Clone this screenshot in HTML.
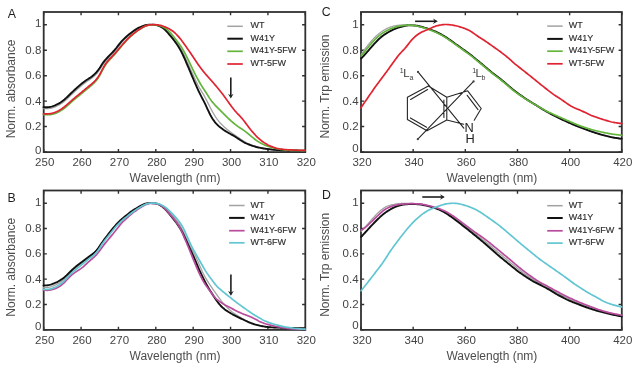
<!DOCTYPE html>
<html><head><meta charset="utf-8"><style>
html,body{margin:0;padding:0;background:#fff;}
body{width:635px;height:370px;overflow:hidden;}
svg{display:block;filter:blur(0.35px);}
text{font-family:"Liberation Sans", sans-serif;fill:#4d4d4d;}
</style></head><body>
<svg width="635" height="370" viewBox="0 0 635 370">
<rect width="635" height="370" fill="#fff"/>
<rect x="43.70" y="12.00" width="261.60" height="140.10" fill="none" stroke="#303030" stroke-width="1.8"/>
<path d="M43.70 152.00h3.20M305.30 152.00h-3.20" stroke="#303030" stroke-width="1.4"/>
<text x="41.30" y="154.30" text-anchor="end" font-size="11.5" style="fill:#444">0</text>
<path d="M43.70 126.56h3.20M305.30 126.56h-3.20" stroke="#303030" stroke-width="1.4"/>
<text x="41.30" y="130.16" text-anchor="end" font-size="11.5" style="fill:#444">0.2</text>
<path d="M43.70 101.12h3.20M305.30 101.12h-3.20" stroke="#303030" stroke-width="1.4"/>
<text x="41.30" y="104.72" text-anchor="end" font-size="11.5" style="fill:#444">0.4</text>
<path d="M43.70 75.68h3.20M305.30 75.68h-3.20" stroke="#303030" stroke-width="1.4"/>
<text x="41.30" y="79.28" text-anchor="end" font-size="11.5" style="fill:#444">0.6</text>
<path d="M43.70 50.24h3.20M305.30 50.24h-3.20" stroke="#303030" stroke-width="1.4"/>
<text x="41.30" y="53.84" text-anchor="end" font-size="11.5" style="fill:#444">0.8</text>
<path d="M43.70 24.80h3.20M305.30 24.80h-3.20" stroke="#303030" stroke-width="1.4"/>
<text x="41.30" y="26.80" text-anchor="end" font-size="11.5" style="fill:#444">1</text>
<path d="M43.70 152.10v-3.20M43.70 12.00v3.20" stroke="#303030" stroke-width="1.4"/>
<text x="44.70" y="166.10" text-anchor="middle" font-size="11.5" style="fill:#444">250</text>
<path d="M81.07 152.10v-3.20M81.07 12.00v3.20" stroke="#303030" stroke-width="1.4"/>
<text x="82.07" y="166.10" text-anchor="middle" font-size="11.5" style="fill:#444">260</text>
<path d="M118.44 152.10v-3.20M118.44 12.00v3.20" stroke="#303030" stroke-width="1.4"/>
<text x="119.44" y="166.10" text-anchor="middle" font-size="11.5" style="fill:#444">270</text>
<path d="M155.81 152.10v-3.20M155.81 12.00v3.20" stroke="#303030" stroke-width="1.4"/>
<text x="156.81" y="166.10" text-anchor="middle" font-size="11.5" style="fill:#444">280</text>
<path d="M193.19 152.10v-3.20M193.19 12.00v3.20" stroke="#303030" stroke-width="1.4"/>
<text x="194.19" y="166.10" text-anchor="middle" font-size="11.5" style="fill:#444">290</text>
<path d="M230.56 152.10v-3.20M230.56 12.00v3.20" stroke="#303030" stroke-width="1.4"/>
<text x="231.56" y="166.10" text-anchor="middle" font-size="11.5" style="fill:#444">300</text>
<path d="M267.93 152.10v-3.20M267.93 12.00v3.20" stroke="#303030" stroke-width="1.4"/>
<text x="268.93" y="166.10" text-anchor="middle" font-size="11.5" style="fill:#444">310</text>
<path d="M305.30 152.10v-3.20M305.30 12.00v3.20" stroke="#303030" stroke-width="1.4"/>
<text x="306.30" y="166.10" text-anchor="middle" font-size="11.5" style="fill:#444">320</text>
<text x="175.00" y="181.70" text-anchor="middle" font-size="12">Wavelength (nm)</text>
<text transform="translate(15.00 89.00) rotate(-90)" text-anchor="middle" font-size="12">Norm. absorbance</text>
<text x="7.80" y="17.80" font-size="12.3" style="fill:#1e1e1e">A</text>
<path d="M43.50 108.60 L44.50 108.60 L45.50 108.60 L46.50 108.59 L47.50 108.58 L48.50 108.54 L49.50 108.46 L50.50 108.31 L51.50 108.09 L52.50 107.80 L53.50 107.45 L54.50 107.06 L55.50 106.64 L56.50 106.20 L57.50 105.73 L58.50 105.23 L59.50 104.68 L60.50 104.07 L61.50 103.40 L62.50 102.69 L63.50 101.92 L64.50 101.12 L65.50 100.28 L66.50 99.39 L67.50 98.48 L68.50 97.54 L69.50 96.57 L70.50 95.60 L71.50 94.64 L72.50 93.68 L73.50 92.73 L74.50 91.81 L75.50 90.89 L76.50 89.98 L77.50 89.07 L78.50 88.17 L79.50 87.28 L80.50 86.40 L81.50 85.53 L82.50 84.68 L83.50 83.87 L84.50 83.11 L85.50 82.40 L86.50 81.73 L87.50 81.08 L88.50 80.42 L89.50 79.75 L90.50 79.04 L91.50 78.30 L92.50 77.53 L93.50 76.71 L94.50 75.85 L95.50 74.92 L96.50 73.88 L97.50 72.72 L98.50 71.42 L99.50 69.98 L100.50 68.43 L101.50 66.84 L102.50 65.30 L103.50 63.85 L104.50 62.53 L105.50 61.32 L106.50 60.17 L107.50 59.08 L108.50 58.01 L109.50 56.95 L110.50 55.90 L111.50 54.84 L112.50 53.78 L113.50 52.69 L114.50 51.56 L115.50 50.37 L116.50 49.12 L117.50 47.81 L118.50 46.47 L119.50 45.15 L120.50 43.88 L121.50 42.69 L122.50 41.58 L123.50 40.54 L124.50 39.54 L125.50 38.57 L126.50 37.62 L127.50 36.69 L128.50 35.78 L129.50 34.92 L130.50 34.11 L131.50 33.32 L132.50 32.57 L133.50 31.82 L134.50 31.10 L135.50 30.39 L136.50 29.72 L137.50 29.11 L138.50 28.55 L139.50 28.03 L140.50 27.55 L141.50 27.09 L142.50 26.65 L143.50 26.23 L144.50 25.85 L145.50 25.54 L146.50 25.29 L147.50 25.09 L148.50 24.95 L149.50 24.84 L150.50 24.76 L151.50 24.72 L152.50 24.72 L153.50 24.76 L154.50 24.83 L155.50 24.94 L156.50 25.10 L157.50 25.31 L158.50 25.58 L159.50 25.93 L160.50 26.36 L161.50 26.87 L162.50 27.46 L163.50 28.13 L164.50 28.89 L165.50 29.75 L166.50 30.70 L167.50 31.72 L168.50 32.78 L169.50 33.87 L170.50 34.98 L171.50 36.10 L172.50 37.25 L173.50 38.43 L174.50 39.66 L175.50 40.94 L176.50 42.28 L177.50 43.66 L178.50 45.10 L179.50 46.63 L180.50 48.27 L181.50 50.04 L182.50 51.92 L183.50 53.90 L184.50 55.95 L185.50 58.06 L186.50 60.22 L187.50 62.42 L188.50 64.64 L189.50 66.89 L190.50 69.14 L191.50 71.39 L192.50 73.63 L193.50 75.85 L194.50 78.04 L195.50 80.19 L196.50 82.29 L197.50 84.30 L198.50 86.22 L199.50 88.02 L200.50 89.70 L201.50 91.32 L202.50 92.92 L203.50 94.59 L204.50 96.35 L205.50 98.21 L206.50 100.14 L207.50 102.11 L208.50 104.09 L209.50 106.07 L210.50 108.02 L211.50 109.92 L212.50 111.76 L213.50 113.51 L214.50 115.19 L215.50 116.77 L216.50 118.26 L217.50 119.64 L218.50 120.90 L219.50 122.08 L220.50 123.20 L221.50 124.27 L222.50 125.29 L223.50 126.26 L224.50 127.17 L225.50 128.04 L226.50 128.88 L227.50 129.70 L228.50 130.51 L229.50 131.30 L230.50 132.06 L231.50 132.78 L232.50 133.49 L233.50 134.18 L234.50 134.86 L235.50 135.54 L236.50 136.22 L237.50 136.91 L238.50 137.60 L239.50 138.29 L240.50 138.98 L241.50 139.67 L242.50 140.34 L243.50 140.98 L244.50 141.59 L245.50 142.16 L246.50 142.69 L247.50 143.21 L248.50 143.70 L249.50 144.17 L250.50 144.62 L251.50 145.03 L252.50 145.42 L253.50 145.79 L254.50 146.14 L255.50 146.47 L256.50 146.78 L257.50 147.06 L258.50 147.31 L259.50 147.55 L260.50 147.77 L261.50 147.98 L262.50 148.17 L263.50 148.35 L264.50 148.51 L265.50 148.67 L266.50 148.82 L267.50 148.96 L268.50 149.10 L269.50 149.24 L270.50 149.37 L271.50 149.50 L272.50 149.62 L273.50 149.74 L274.50 149.83 L275.50 149.91 L276.50 149.98 L277.50 150.04 L278.50 150.09 L279.50 150.14 L280.50 150.19 L281.50 150.23 L282.50 150.28 L283.50 150.32 L284.50 150.36 L285.50 150.39 L286.50 150.41 L287.50 150.43 L288.50 150.45 L289.50 150.47 L290.50 150.48 L291.50 150.50 L292.50 150.51 L293.50 150.53 L294.50 150.54 L295.50 150.56 L296.50 150.57 L297.50 150.59 L298.50 150.60 L299.50 150.62 L300.50 150.63 L301.50 150.65 L302.50 150.66 L303.50 150.68 L304.50 150.69 L305.00 150.70" fill="none" stroke="#a2a2a2" stroke-width="1.30" stroke-linejoin="round" stroke-linecap="round"/>
<path d="M43.50 107.20 L44.50 107.20 L45.50 107.20 L46.50 107.19 L47.50 107.18 L48.50 107.14 L49.50 107.05 L50.50 106.90 L51.50 106.66 L52.50 106.35 L53.50 105.98 L54.50 105.58 L55.50 105.14 L56.50 104.67 L57.50 104.18 L58.50 103.66 L59.50 103.09 L60.50 102.46 L61.50 101.77 L62.50 101.03 L63.50 100.25 L64.50 99.42 L65.50 98.55 L66.50 97.65 L67.50 96.70 L68.50 95.74 L69.50 94.75 L70.50 93.76 L71.50 92.78 L72.50 91.81 L73.50 90.87 L74.50 89.95 L75.50 89.05 L76.50 88.15 L77.50 87.26 L78.50 86.38 L79.50 85.51 L80.50 84.64 L81.50 83.78 L82.50 82.95 L83.50 82.16 L84.50 81.42 L85.50 80.72 L86.50 80.07 L87.50 79.43 L88.50 78.79 L89.50 78.12 L90.50 77.42 L91.50 76.67 L92.50 75.88 L93.50 75.06 L94.50 74.18 L95.50 73.22 L96.50 72.17 L97.50 70.98 L98.50 69.66 L99.50 68.21 L100.50 66.66 L101.50 65.07 L102.50 63.55 L103.50 62.14 L104.50 60.85 L105.50 59.67 L106.50 58.57 L107.50 57.50 L108.50 56.46 L109.50 55.42 L110.50 54.39 L111.50 53.36 L112.50 52.31 L113.50 51.24 L114.50 50.13 L115.50 48.96 L116.50 47.73 L117.50 46.44 L118.50 45.13 L119.50 43.83 L120.50 42.58 L121.50 41.41 L122.50 40.34 L123.50 39.33 L124.50 38.37 L125.50 37.44 L126.50 36.52 L127.50 35.62 L128.50 34.76 L129.50 33.94 L130.50 33.15 L131.50 32.41 L132.50 31.69 L133.50 30.98 L134.50 30.29 L135.50 29.63 L136.50 29.00 L137.50 28.43 L138.50 27.91 L139.50 27.44 L140.50 27.01 L141.50 26.60 L142.50 26.20 L143.50 25.83 L144.50 25.50 L145.50 25.23 L146.50 25.02 L147.50 24.87 L148.50 24.76 L149.50 24.68 L150.50 24.64 L151.50 24.63 L152.50 24.65 L153.50 24.71 L154.50 24.82 L155.50 24.96 L156.50 25.16 L157.50 25.41 L158.50 25.72 L159.50 26.11 L160.50 26.59 L161.50 27.14 L162.50 27.78 L163.50 28.51 L164.50 29.34 L165.50 30.28 L166.50 31.32 L167.50 32.43 L168.50 33.59 L169.50 34.77 L170.50 35.96 L171.50 37.17 L172.50 38.40 L173.50 39.66 L174.50 40.98 L175.50 42.34 L176.50 43.76 L177.50 45.23 L178.50 46.76 L179.50 48.40 L180.50 50.16 L181.50 52.06 L182.50 54.10 L183.50 56.24 L184.50 58.45 L185.50 60.72 L186.50 63.02 L187.50 65.35 L188.50 67.70 L189.50 70.05 L190.50 72.41 L191.50 74.77 L192.50 77.14 L193.50 79.50 L194.50 81.85 L195.50 84.18 L196.50 86.47 L197.50 88.71 L198.50 90.87 L199.50 92.94 L200.50 94.93 L201.50 96.84 L202.50 98.73 L203.50 100.64 L204.50 102.62 L205.50 104.70 L206.50 106.85 L207.50 109.03 L208.50 111.19 L209.50 113.27 L210.50 115.22 L211.50 117.04 L212.50 118.69 L213.50 120.18 L214.50 121.54 L215.50 122.78 L216.50 123.91 L217.50 124.95 L218.50 125.89 L219.50 126.76 L220.50 127.58 L221.50 128.36 L222.50 129.10 L223.50 129.80 L224.50 130.46 L225.50 131.09 L226.50 131.69 L227.50 132.29 L228.50 132.87 L229.50 133.45 L230.50 134.01 L231.50 134.57 L232.50 135.12 L233.50 135.68 L234.50 136.27 L235.50 136.89 L236.50 137.53 L237.50 138.20 L238.50 138.87 L239.50 139.53 L240.50 140.18 L241.50 140.82 L242.50 141.43 L243.50 142.00 L244.50 142.54 L245.50 143.04 L246.50 143.50 L247.50 143.93 L248.50 144.35 L249.50 144.75 L250.50 145.12 L251.50 145.48 L252.50 145.81 L253.50 146.13 L254.50 146.44 L255.50 146.73 L256.50 147.00 L257.50 147.24 L258.50 147.48 L259.50 147.69 L260.50 147.90 L261.50 148.10 L262.50 148.28 L263.50 148.45 L264.50 148.61 L265.50 148.77 L266.50 148.91 L267.50 149.05 L268.50 149.19 L269.50 149.31 L270.50 149.43 L271.50 149.55 L272.50 149.66 L273.50 149.76 L274.50 149.85 L275.50 149.92 L276.50 149.98 L277.50 150.04 L278.50 150.09 L279.50 150.14 L280.50 150.19 L281.50 150.23 L282.50 150.28 L283.50 150.32 L284.50 150.36 L285.50 150.39 L286.50 150.41 L287.50 150.43 L288.50 150.45 L289.50 150.47 L290.50 150.48 L291.50 150.50 L292.50 150.51 L293.50 150.53 L294.50 150.54 L295.50 150.56 L296.50 150.57 L297.50 150.59 L298.50 150.60 L299.50 150.62 L300.50 150.63 L301.50 150.65 L302.50 150.66 L303.50 150.68 L304.50 150.69 L305.00 150.70" fill="none" stroke="#111111" stroke-width="1.90" stroke-linejoin="round" stroke-linecap="round"/>
<path d="M43.50 114.60 L44.50 114.63 L45.50 114.66 L46.50 114.68 L47.50 114.70 L48.50 114.70 L49.50 114.67 L50.50 114.58 L51.50 114.44 L52.50 114.25 L53.50 114.00 L54.50 113.70 L55.50 113.35 L56.50 112.96 L57.50 112.52 L58.50 112.03 L59.50 111.49 L60.50 110.89 L61.50 110.24 L62.50 109.55 L63.50 108.81 L64.50 108.04 L65.50 107.23 L66.50 106.39 L67.50 105.53 L68.50 104.66 L69.50 103.77 L70.50 102.87 L71.50 101.97 L72.50 101.08 L73.50 100.20 L74.50 99.35 L75.50 98.51 L76.50 97.70 L77.50 96.90 L78.50 96.09 L79.50 95.28 L80.50 94.46 L81.50 93.63 L82.50 92.80 L83.50 91.96 L84.50 91.12 L85.50 90.28 L86.50 89.44 L87.50 88.62 L88.50 87.80 L89.50 86.98 L90.50 86.16 L91.50 85.31 L92.50 84.43 L93.50 83.50 L94.50 82.52 L95.50 81.47 L96.50 80.31 L97.50 79.01 L98.50 77.54 L99.50 75.89 L100.50 74.08 L101.50 72.16 L102.50 70.20 L103.50 68.31 L104.50 66.56 L105.50 64.98 L106.50 63.56 L107.50 62.28 L108.50 61.10 L109.50 59.99 L110.50 58.92 L111.50 57.86 L112.50 56.78 L113.50 55.68 L114.50 54.56 L115.50 53.42 L116.50 52.26 L117.50 51.07 L118.50 49.85 L119.50 48.62 L120.50 47.39 L121.50 46.18 L122.50 45.00 L123.50 43.86 L124.50 42.73 L125.50 41.62 L126.50 40.52 L127.50 39.45 L128.50 38.42 L129.50 37.44 L130.50 36.51 L131.50 35.63 L132.50 34.78 L133.50 33.95 L134.50 33.13 L135.50 32.33 L136.50 31.56 L137.50 30.82 L138.50 30.13 L139.50 29.47 L140.50 28.84 L141.50 28.22 L142.50 27.62 L143.50 27.05 L144.50 26.53 L145.50 26.08 L146.50 25.71 L147.50 25.43 L148.50 25.20 L149.50 25.04 L150.50 24.93 L151.50 24.86 L152.50 24.83 L153.50 24.83 L154.50 24.86 L155.50 24.92 L156.50 25.03 L157.50 25.19 L158.50 25.39 L159.50 25.62 L160.50 25.90 L161.50 26.24 L162.50 26.66 L163.50 27.15 L164.50 27.72 L165.50 28.36 L166.50 29.06 L167.50 29.85 L168.50 30.76 L169.50 31.78 L170.50 32.90 L171.50 34.09 L172.50 35.31 L173.50 36.55 L174.50 37.81 L175.50 39.08 L176.50 40.36 L177.50 41.67 L178.50 43.00 L179.50 44.37 L180.50 45.81 L181.50 47.32 L182.50 48.92 L183.50 50.61 L184.50 52.42 L185.50 54.34 L186.50 56.34 L187.50 58.40 L188.50 60.48 L189.50 62.57 L190.50 64.65 L191.50 66.72 L192.50 68.78 L193.50 70.83 L194.50 72.86 L195.50 74.86 L196.50 76.80 L197.50 78.69 L198.50 80.51 L199.50 82.27 L200.50 83.97 L201.50 85.60 L202.50 87.18 L203.50 88.70 L204.50 90.19 L205.50 91.71 L206.50 93.28 L207.50 94.90 L208.50 96.53 L209.50 98.11 L210.50 99.57 L211.50 100.91 L212.50 102.15 L213.50 103.32 L214.50 104.46 L215.50 105.56 L216.50 106.63 L217.50 107.67 L218.50 108.69 L219.50 109.70 L220.50 110.70 L221.50 111.70 L222.50 112.70 L223.50 113.70 L224.50 114.70 L225.50 115.69 L226.50 116.67 L227.50 117.63 L228.50 118.58 L229.50 119.50 L230.50 120.40 L231.50 121.28 L232.50 122.15 L233.50 122.99 L234.50 123.81 L235.50 124.60 L236.50 125.37 L237.50 126.11 L238.50 126.83 L239.50 127.52 L240.50 128.18 L241.50 128.82 L242.50 129.45 L243.50 130.11 L244.50 130.82 L245.50 131.58 L246.50 132.38 L247.50 133.21 L248.50 134.05 L249.50 134.89 L250.50 135.72 L251.50 136.55 L252.50 137.37 L253.50 138.18 L254.50 138.96 L255.50 139.72 L256.50 140.44 L257.50 141.12 L258.50 141.76 L259.50 142.38 L260.50 142.96 L261.50 143.52 L262.50 144.03 L263.50 144.50 L264.50 144.93 L265.50 145.34 L266.50 145.73 L267.50 146.10 L268.50 146.46 L269.50 146.79 L270.50 147.10 L271.50 147.40 L272.50 147.69 L273.50 147.95 L274.50 148.20 L275.50 148.41 L276.50 148.61 L277.50 148.79 L278.50 148.96 L279.50 149.13 L280.50 149.29 L281.50 149.46 L282.50 149.62 L283.50 149.77 L284.50 149.91 L285.50 150.04 L286.50 150.13 L287.50 150.19 L288.50 150.24 L289.50 150.27 L290.50 150.29 L291.50 150.32 L292.50 150.34 L293.50 150.36 L294.50 150.38 L295.50 150.40 L296.50 150.42 L297.50 150.44 L298.50 150.46 L299.50 150.48 L300.50 150.51 L301.50 150.53 L302.50 150.55 L303.50 150.57 L304.50 150.59 L305.00 150.60" fill="none" stroke="#63b53c" stroke-width="1.70" stroke-linejoin="round" stroke-linecap="round"/>
<path d="M43.50 113.80 L44.50 113.80 L45.50 113.80 L46.50 113.80 L47.50 113.78 L48.50 113.75 L49.50 113.69 L50.50 113.58 L51.50 113.40 L52.50 113.17 L53.50 112.88 L54.50 112.54 L55.50 112.16 L56.50 111.74 L57.50 111.27 L58.50 110.76 L59.50 110.21 L60.50 109.60 L61.50 108.95 L62.50 108.25 L63.50 107.51 L64.50 106.74 L65.50 105.93 L66.50 105.09 L67.50 104.23 L68.50 103.36 L69.50 102.47 L70.50 101.57 L71.50 100.67 L72.50 99.78 L73.50 98.90 L74.50 98.05 L75.50 97.21 L76.50 96.40 L77.50 95.60 L78.50 94.79 L79.50 93.98 L80.50 93.16 L81.50 92.33 L82.50 91.50 L83.50 90.66 L84.50 89.82 L85.50 88.98 L86.50 88.15 L87.50 87.34 L88.50 86.53 L89.50 85.73 L90.50 84.92 L91.50 84.09 L92.50 83.22 L93.50 82.30 L94.50 81.32 L95.50 80.27 L96.50 79.12 L97.50 77.83 L98.50 76.38 L99.50 74.75 L100.50 72.97 L101.50 71.08 L102.50 69.16 L103.50 67.30 L104.50 65.58 L105.50 64.03 L106.50 62.64 L107.50 61.38 L108.50 60.23 L109.50 59.14 L110.50 58.09 L111.50 57.05 L112.50 56.00 L113.50 54.93 L114.50 53.84 L115.50 52.73 L116.50 51.60 L117.50 50.45 L118.50 49.27 L119.50 48.06 L120.50 46.86 L121.50 45.68 L122.50 44.54 L123.50 43.42 L124.50 42.32 L125.50 41.23 L126.50 40.16 L127.50 39.11 L128.50 38.10 L129.50 37.13 L130.50 36.23 L131.50 35.36 L132.50 34.52 L133.50 33.70 L134.50 32.90 L135.50 32.11 L136.50 31.35 L137.50 30.63 L138.50 29.95 L139.50 29.30 L140.50 28.68 L141.50 28.07 L142.50 27.48 L143.50 26.92 L144.50 26.41 L145.50 25.97 L146.50 25.61 L147.50 25.32 L148.50 25.10 L149.50 24.93 L150.50 24.81 L151.50 24.73 L152.50 24.68 L153.50 24.67 L154.50 24.68 L155.50 24.72 L156.50 24.79 L157.50 24.91 L158.50 25.06 L159.50 25.24 L160.50 25.45 L161.50 25.69 L162.50 25.98 L163.50 26.32 L164.50 26.69 L165.50 27.10 L166.50 27.54 L167.50 28.01 L168.50 28.52 L169.50 29.08 L170.50 29.67 L171.50 30.30 L172.50 30.98 L173.50 31.72 L174.50 32.55 L175.50 33.48 L176.50 34.49 L177.50 35.56 L178.50 36.67 L179.50 37.84 L180.50 39.06 L181.50 40.34 L182.50 41.67 L183.50 43.04 L184.50 44.43 L185.50 45.83 L186.50 47.25 L187.50 48.68 L188.50 50.13 L189.50 51.58 L190.50 53.05 L191.50 54.52 L192.50 56.00 L193.50 57.49 L194.50 58.99 L195.50 60.49 L196.50 61.98 L197.50 63.46 L198.50 64.91 L199.50 66.32 L200.50 67.70 L201.50 69.05 L202.50 70.35 L203.50 71.60 L204.50 72.80 L205.50 73.97 L206.50 75.11 L207.50 76.24 L208.50 77.36 L209.50 78.49 L210.50 79.62 L211.50 80.75 L212.50 81.89 L213.50 83.03 L214.50 84.19 L215.50 85.36 L216.50 86.53 L217.50 87.73 L218.50 88.94 L219.50 90.18 L220.50 91.44 L221.50 92.72 L222.50 94.03 L223.50 95.36 L224.50 96.71 L225.50 98.08 L226.50 99.46 L227.50 100.87 L228.50 102.27 L229.50 103.67 L230.50 105.05 L231.50 106.41 L232.50 107.74 L233.50 109.03 L234.50 110.27 L235.50 111.43 L236.50 112.53 L237.50 113.58 L238.50 114.61 L239.50 115.65 L240.50 116.74 L241.50 117.87 L242.50 119.06 L243.50 120.29 L244.50 121.56 L245.50 122.88 L246.50 124.22 L247.50 125.57 L248.50 126.91 L249.50 128.22 L250.50 129.50 L251.50 130.72 L252.50 131.91 L253.50 133.06 L254.50 134.18 L255.50 135.26 L256.50 136.29 L257.50 137.27 L258.50 138.20 L259.50 139.09 L260.50 139.95 L261.50 140.76 L262.50 141.52 L263.50 142.23 L264.50 142.89 L265.50 143.51 L266.50 144.10 L267.50 144.66 L268.50 145.18 L269.50 145.65 L270.50 146.09 L271.50 146.50 L272.50 146.89 L273.50 147.26 L274.50 147.61 L275.50 147.93 L276.50 148.21 L277.50 148.46 L278.50 148.67 L279.50 148.85 L280.50 149.00 L281.50 149.13 L282.50 149.26 L283.50 149.38 L284.50 149.49 L285.50 149.59 L286.50 149.68 L287.50 149.75 L288.50 149.82 L289.50 149.87 L290.50 149.92 L291.50 149.97 L292.50 150.02 L293.50 150.07 L294.50 150.11 L295.50 150.15 L296.50 150.19 L297.50 150.22 L298.50 150.25 L299.50 150.27 L300.50 150.30 L301.50 150.32 L302.50 150.34 L303.50 150.37 L304.50 150.39 L305.00 150.40" fill="none" stroke="#e02331" stroke-width="1.70" stroke-linejoin="round" stroke-linecap="round"/>
<path d="M227.30 26.30h15.5" stroke="#a2a2a2" stroke-width="1.50"/>
<text x="250.50" y="28.30" font-size="9" style="fill:#2e2e2e;stroke:#2e2e2e;stroke-width:0.15px">WT</text>
<path d="M227.30 38.70h15.5" stroke="#111111" stroke-width="2.00"/>
<text x="250.50" y="40.70" font-size="9" style="fill:#2e2e2e;stroke:#2e2e2e;stroke-width:0.15px">W41Y</text>
<path d="M227.30 51.30h15.5" stroke="#63b53c" stroke-width="1.70"/>
<text x="250.50" y="53.30" font-size="9" style="fill:#2e2e2e;stroke:#2e2e2e;stroke-width:0.15px">W41Y-5FW</text>
<path d="M227.30 64.00h15.5" stroke="#e02331" stroke-width="1.70"/>
<text x="250.50" y="66.00" font-size="9" style="fill:#2e2e2e;stroke:#2e2e2e;stroke-width:0.15px">WT-5FW</text>
<path d="M230.80 77.40V97.10" stroke="#1e1e1e" stroke-width="1.6"/>
<path d="M228.00 93.80L230.80 98.60L233.60 93.80L230.80 95.40Z" fill="#222"/>
<rect x="43.70" y="190.50" width="261.60" height="139.40" fill="none" stroke="#303030" stroke-width="1.8"/>
<path d="M43.70 329.80h3.20M305.30 329.80h-3.20" stroke="#303030" stroke-width="1.4"/>
<text x="41.30" y="330.40" text-anchor="end" font-size="11.5" style="fill:#444">0</text>
<path d="M43.70 304.48h3.20M305.30 304.48h-3.20" stroke="#303030" stroke-width="1.4"/>
<text x="41.30" y="308.08" text-anchor="end" font-size="11.5" style="fill:#444">0.2</text>
<path d="M43.70 279.16h3.20M305.30 279.16h-3.20" stroke="#303030" stroke-width="1.4"/>
<text x="41.30" y="282.76" text-anchor="end" font-size="11.5" style="fill:#444">0.4</text>
<path d="M43.70 253.84h3.20M305.30 253.84h-3.20" stroke="#303030" stroke-width="1.4"/>
<text x="41.30" y="257.44" text-anchor="end" font-size="11.5" style="fill:#444">0.6</text>
<path d="M43.70 228.52h3.20M305.30 228.52h-3.20" stroke="#303030" stroke-width="1.4"/>
<text x="41.30" y="232.12" text-anchor="end" font-size="11.5" style="fill:#444">0.8</text>
<path d="M43.70 203.20h3.20M305.30 203.20h-3.20" stroke="#303030" stroke-width="1.4"/>
<text x="41.30" y="205.80" text-anchor="end" font-size="11.5" style="fill:#444">1</text>
<path d="M43.70 329.90v-3.20M43.70 190.50v3.20" stroke="#303030" stroke-width="1.4"/>
<text x="44.70" y="343.90" text-anchor="middle" font-size="11.5" style="fill:#444">250</text>
<path d="M81.07 329.90v-3.20M81.07 190.50v3.20" stroke="#303030" stroke-width="1.4"/>
<text x="82.07" y="343.90" text-anchor="middle" font-size="11.5" style="fill:#444">260</text>
<path d="M118.44 329.90v-3.20M118.44 190.50v3.20" stroke="#303030" stroke-width="1.4"/>
<text x="119.44" y="343.90" text-anchor="middle" font-size="11.5" style="fill:#444">270</text>
<path d="M155.81 329.90v-3.20M155.81 190.50v3.20" stroke="#303030" stroke-width="1.4"/>
<text x="156.81" y="343.90" text-anchor="middle" font-size="11.5" style="fill:#444">280</text>
<path d="M193.19 329.90v-3.20M193.19 190.50v3.20" stroke="#303030" stroke-width="1.4"/>
<text x="194.19" y="343.90" text-anchor="middle" font-size="11.5" style="fill:#444">290</text>
<path d="M230.56 329.90v-3.20M230.56 190.50v3.20" stroke="#303030" stroke-width="1.4"/>
<text x="231.56" y="343.90" text-anchor="middle" font-size="11.5" style="fill:#444">300</text>
<path d="M267.93 329.90v-3.20M267.93 190.50v3.20" stroke="#303030" stroke-width="1.4"/>
<text x="268.93" y="343.90" text-anchor="middle" font-size="11.5" style="fill:#444">310</text>
<path d="M305.30 329.90v-3.20M305.30 190.50v3.20" stroke="#303030" stroke-width="1.4"/>
<text x="306.30" y="343.90" text-anchor="middle" font-size="11.5" style="fill:#444">320</text>
<text x="175.00" y="359.50" text-anchor="middle" font-size="12">Wavelength (nm)</text>
<text transform="translate(15.00 267.30) rotate(-90)" text-anchor="middle" font-size="12">Norm. absorbance</text>
<text x="7.50" y="201.60" font-size="12.3" style="fill:#1e1e1e">B</text>
<path d="M43.50 287.30 L44.50 287.35 L45.50 287.40 L46.50 287.41 L47.50 287.39 L48.50 287.29 L49.50 287.11 L50.50 286.84 L51.50 286.52 L52.50 286.16 L53.50 285.77 L54.50 285.36 L55.50 284.93 L56.50 284.45 L57.50 283.93 L58.50 283.35 L59.50 282.72 L60.50 282.04 L61.50 281.30 L62.50 280.51 L63.50 279.67 L64.50 278.77 L65.50 277.84 L66.50 276.86 L67.50 275.86 L68.50 274.82 L69.50 273.78 L70.50 272.75 L71.50 271.75 L72.50 270.79 L73.50 269.87 L74.50 268.98 L75.50 268.13 L76.50 267.31 L77.50 266.53 L78.50 265.78 L79.50 265.04 L80.50 264.30 L81.50 263.56 L82.50 262.81 L83.50 262.04 L84.50 261.25 L85.50 260.44 L86.50 259.63 L87.50 258.82 L88.50 258.03 L89.50 257.27 L90.50 256.52 L91.50 255.77 L92.50 255.00 L93.50 254.17 L94.50 253.26 L95.50 252.25 L96.50 251.13 L97.50 249.91 L98.50 248.57 L99.50 247.13 L100.50 245.62 L101.50 244.11 L102.50 242.62 L103.50 241.19 L104.50 239.81 L105.50 238.48 L106.50 237.18 L107.50 235.91 L108.50 234.65 L109.50 233.41 L110.50 232.17 L111.50 230.94 L112.50 229.71 L113.50 228.50 L114.50 227.31 L115.50 226.16 L116.50 225.06 L117.50 224.00 L118.50 222.98 L119.50 222.00 L120.50 221.05 L121.50 220.15 L122.50 219.30 L123.50 218.47 L124.50 217.66 L125.50 216.86 L126.50 216.06 L127.50 215.27 L128.50 214.48 L129.50 213.69 L130.50 212.92 L131.50 212.18 L132.50 211.46 L133.50 210.76 L134.50 210.08 L135.50 209.42 L136.50 208.77 L137.50 208.13 L138.50 207.50 L139.50 206.89 L140.50 206.30 L141.50 205.74 L142.50 205.21 L143.50 204.74 L144.50 204.31 L145.50 203.94 L146.50 203.64 L147.50 203.41 L148.50 203.26 L149.50 203.16 L150.50 203.12 L151.50 203.12 L152.50 203.14 L153.50 203.20 L154.50 203.28 L155.50 203.40 L156.50 203.56 L157.50 203.79 L158.50 204.10 L159.50 204.49 L160.50 204.98 L161.50 205.53 L162.50 206.14 L163.50 206.81 L164.50 207.54 L165.50 208.33 L166.50 209.18 L167.50 210.08 L168.50 211.03 L169.50 212.01 L170.50 213.03 L171.50 214.09 L172.50 215.20 L173.50 216.36 L174.50 217.57 L175.50 218.83 L176.50 220.14 L177.50 221.51 L178.50 222.96 L179.50 224.51 L180.50 226.19 L181.50 228.02 L182.50 229.99 L183.50 232.09 L184.50 234.27 L185.50 236.49 L186.50 238.72 L187.50 240.91 L188.50 243.02 L189.50 245.04 L190.50 246.96 L191.50 248.77 L192.50 250.52 L193.50 252.25 L194.50 254.06 L195.50 256.02 L196.50 258.16 L197.50 260.46 L198.50 262.83 L199.50 265.21 L200.50 267.55 L201.50 269.80 L202.50 271.95 L203.50 273.98 L204.50 275.89 L205.50 277.71 L206.50 279.44 L207.50 281.10 L208.50 282.69 L209.50 284.23 L210.50 285.72 L211.50 287.20 L212.50 288.65 L213.50 290.08 L214.50 291.50 L215.50 292.91 L216.50 294.31 L217.50 295.70 L218.50 297.08 L219.50 298.44 L220.50 299.78 L221.50 301.09 L222.50 302.36 L223.50 303.57 L224.50 304.73 L225.50 305.83 L226.50 306.87 L227.50 307.88 L228.50 308.83 L229.50 309.75 L230.50 310.62 L231.50 311.44 L232.50 312.21 L233.50 312.94 L234.50 313.64 L235.50 314.31 L236.50 314.97 L237.50 315.60 L238.50 316.22 L239.50 316.82 L240.50 317.41 L241.50 317.99 L242.50 318.56 L243.50 319.12 L244.50 319.67 L245.50 320.21 L246.50 320.74 L247.50 321.24 L248.50 321.72 L249.50 322.16 L250.50 322.58 L251.50 322.99 L252.50 323.38 L253.50 323.76 L254.50 324.10 L255.50 324.42 L256.50 324.70 L257.50 324.95 L258.50 325.19 L259.50 325.43 L260.50 325.65 L261.50 325.88 L262.50 326.09 L263.50 326.30 L264.50 326.48 L265.50 326.65 L266.50 326.80 L267.50 326.94 L268.50 327.07 L269.50 327.18 L270.50 327.26 L271.50 327.33 L272.50 327.39 L273.50 327.44 L274.50 327.48 L275.50 327.52 L276.50 327.56 L277.50 327.60 L278.50 327.64 L279.50 327.67 L280.50 327.71 L281.50 327.74 L282.50 327.77 L283.50 327.80 L284.50 327.83 L285.50 327.86 L286.50 327.89 L287.50 327.92 L288.50 327.95 L289.50 327.98 L290.50 328.00 L291.50 328.02 L292.50 328.03 L293.50 328.05 L294.50 328.06 L295.50 328.07 L296.50 328.09 L297.50 328.10 L298.50 328.11 L299.50 328.13 L300.50 328.14 L301.50 328.15 L302.50 328.17 L303.50 328.18 L304.50 328.19 L305.00 328.20" fill="none" stroke="#a2a2a2" stroke-width="1.30" stroke-linejoin="round" stroke-linecap="round"/>
<path d="M43.50 285.40 L44.50 285.40 L45.50 285.38 L46.50 285.35 L47.50 285.28 L48.50 285.14 L49.50 284.93 L50.50 284.66 L51.50 284.33 L52.50 283.96 L53.50 283.57 L54.50 283.17 L55.50 282.74 L56.50 282.29 L57.50 281.79 L58.50 281.26 L59.50 280.68 L60.50 280.07 L61.50 279.40 L62.50 278.70 L63.50 277.94 L64.50 277.14 L65.50 276.29 L66.50 275.39 L67.50 274.44 L68.50 273.46 L69.50 272.46 L70.50 271.47 L71.50 270.49 L72.50 269.54 L73.50 268.62 L74.50 267.73 L75.50 266.86 L76.50 266.03 L77.50 265.22 L78.50 264.45 L79.50 263.71 L80.50 262.99 L81.50 262.28 L82.50 261.56 L83.50 260.82 L84.50 260.06 L85.50 259.27 L86.50 258.48 L87.50 257.70 L88.50 256.93 L89.50 256.18 L90.50 255.46 L91.50 254.73 L92.50 254.00 L93.50 253.21 L94.50 252.36 L95.50 251.40 L96.50 250.33 L97.50 249.12 L98.50 247.79 L99.50 246.35 L100.50 244.87 L101.50 243.38 L102.50 241.91 L103.50 240.48 L104.50 239.10 L105.50 237.78 L106.50 236.49 L107.50 235.22 L108.50 233.96 L109.50 232.71 L110.50 231.45 L111.50 230.20 L112.50 228.94 L113.50 227.70 L114.50 226.49 L115.50 225.32 L116.50 224.21 L117.50 223.15 L118.50 222.14 L119.50 221.17 L120.50 220.24 L121.50 219.34 L122.50 218.49 L123.50 217.67 L124.50 216.85 L125.50 216.05 L126.50 215.24 L127.50 214.44 L128.50 213.64 L129.50 212.84 L130.50 212.08 L131.50 211.35 L132.50 210.66 L133.50 210.01 L134.50 209.39 L135.50 208.79 L136.50 208.19 L137.50 207.59 L138.50 206.98 L139.50 206.39 L140.50 205.81 L141.50 205.28 L142.50 204.79 L143.50 204.37 L144.50 204.01 L145.50 203.71 L146.50 203.48 L147.50 203.30 L148.50 203.19 L149.50 203.13 L150.50 203.11 L151.50 203.13 L152.50 203.18 L153.50 203.25 L154.50 203.35 L155.50 203.49 L156.50 203.67 L157.50 203.94 L158.50 204.32 L159.50 204.81 L160.50 205.41 L161.50 206.10 L162.50 206.86 L163.50 207.68 L164.50 208.59 L165.50 209.58 L166.50 210.66 L167.50 211.81 L168.50 212.99 L169.50 214.18 L170.50 215.39 L171.50 216.60 L172.50 217.82 L173.50 219.06 L174.50 220.34 L175.50 221.66 L176.50 223.03 L177.50 224.43 L178.50 225.89 L179.50 227.42 L180.50 229.04 L181.50 230.79 L182.50 232.67 L183.50 234.68 L184.50 236.80 L185.50 239.00 L186.50 241.23 L187.50 243.47 L188.50 245.67 L189.50 247.81 L190.50 249.90 L191.50 251.95 L192.50 254.04 L193.50 256.23 L194.50 258.52 L195.50 260.89 L196.50 263.30 L197.50 265.69 L198.50 268.03 L199.50 270.31 L200.50 272.51 L201.50 274.65 L202.50 276.72 L203.50 278.73 L204.50 280.69 L205.50 282.60 L206.50 284.46 L207.50 286.27 L208.50 288.02 L209.50 289.69 L210.50 291.30 L211.50 292.86 L212.50 294.38 L213.50 295.90 L214.50 297.41 L215.50 298.91 L216.50 300.37 L217.50 301.78 L218.50 303.11 L219.50 304.34 L220.50 305.47 L221.50 306.52 L222.50 307.48 L223.50 308.36 L224.50 309.17 L225.50 309.92 L226.50 310.62 L227.50 311.29 L228.50 311.93 L229.50 312.55 L230.50 313.15 L231.50 313.73 L232.50 314.29 L233.50 314.82 L234.50 315.34 L235.50 315.84 L236.50 316.34 L237.50 316.83 L238.50 317.32 L239.50 317.80 L240.50 318.29 L241.50 318.77 L242.50 319.26 L243.50 319.75 L244.50 320.25 L245.50 320.74 L246.50 321.22 L247.50 321.68 L248.50 322.11 L249.50 322.52 L250.50 322.91 L251.50 323.29 L252.50 323.66 L253.50 324.01 L254.50 324.34 L255.50 324.64 L256.50 324.92 L257.50 325.18 L258.50 325.42 L259.50 325.64 L260.50 325.86 L261.50 326.06 L262.50 326.25 L263.50 326.42 L264.50 326.59 L265.50 326.73 L266.50 326.87 L267.50 326.99 L268.50 327.10 L269.50 327.19 L270.50 327.27 L271.50 327.34 L272.50 327.39 L273.50 327.44 L274.50 327.48 L275.50 327.52 L276.50 327.56 L277.50 327.60 L278.50 327.64 L279.50 327.67 L280.50 327.71 L281.50 327.74 L282.50 327.77 L283.50 327.80 L284.50 327.83 L285.50 327.86 L286.50 327.89 L287.50 327.92 L288.50 327.95 L289.50 327.98 L290.50 328.00 L291.50 328.02 L292.50 328.03 L293.50 328.05 L294.50 328.06 L295.50 328.07 L296.50 328.09 L297.50 328.10 L298.50 328.11 L299.50 328.13 L300.50 328.14 L301.50 328.15 L302.50 328.17 L303.50 328.18 L304.50 328.19 L305.00 328.20" fill="none" stroke="#111111" stroke-width="1.90" stroke-linejoin="round" stroke-linecap="round"/>
<path d="M43.50 290.20 L44.50 290.24 L45.50 290.27 L46.50 290.28 L47.50 290.28 L48.50 290.23 L49.50 290.14 L50.50 289.99 L51.50 289.80 L52.50 289.55 L53.50 289.26 L54.50 288.92 L55.50 288.54 L56.50 288.11 L57.50 287.62 L58.50 287.07 L59.50 286.45 L60.50 285.77 L61.50 285.02 L62.50 284.18 L63.50 283.27 L64.50 282.30 L65.50 281.29 L66.50 280.25 L67.50 279.21 L68.50 278.16 L69.50 277.12 L70.50 276.14 L71.50 275.22 L72.50 274.37 L73.50 273.59 L74.50 272.86 L75.50 272.17 L76.50 271.50 L77.50 270.85 L78.50 270.20 L79.50 269.56 L80.50 268.89 L81.50 268.18 L82.50 267.42 L83.50 266.58 L84.50 265.67 L85.50 264.73 L86.50 263.78 L87.50 262.84 L88.50 261.92 L89.50 261.03 L90.50 260.18 L91.50 259.34 L92.50 258.49 L93.50 257.60 L94.50 256.66 L95.50 255.65 L96.50 254.58 L97.50 253.44 L98.50 252.23 L99.50 250.94 L100.50 249.56 L101.50 248.14 L102.50 246.74 L103.50 245.39 L104.50 244.12 L105.50 242.91 L106.50 241.73 L107.50 240.54 L108.50 239.33 L109.50 238.11 L110.50 236.88 L111.50 235.66 L112.50 234.46 L113.50 233.25 L114.50 232.05 L115.50 230.82 L116.50 229.55 L117.50 228.25 L118.50 226.92 L119.50 225.62 L120.50 224.38 L121.50 223.23 L122.50 222.17 L123.50 221.19 L124.50 220.26 L125.50 219.34 L126.50 218.43 L127.50 217.52 L128.50 216.62 L129.50 215.73 L130.50 214.86 L131.50 214.02 L132.50 213.21 L133.50 212.43 L134.50 211.67 L135.50 210.94 L136.50 210.22 L137.50 209.53 L138.50 208.85 L139.50 208.20 L140.50 207.56 L141.50 206.94 L142.50 206.34 L143.50 205.78 L144.50 205.26 L145.50 204.77 L146.50 204.34 L147.50 203.98 L148.50 203.69 L149.50 203.48 L150.50 203.34 L151.50 203.28 L152.50 203.27 L153.50 203.31 L154.50 203.39 L155.50 203.50 L156.50 203.68 L157.50 203.92 L158.50 204.27 L159.50 204.73 L160.50 205.29 L161.50 205.93 L162.50 206.64 L163.50 207.43 L164.50 208.31 L165.50 209.29 L166.50 210.35 L167.50 211.47 L168.50 212.61 L169.50 213.77 L170.50 214.93 L171.50 216.10 L172.50 217.28 L173.50 218.50 L174.50 219.76 L175.50 221.07 L176.50 222.44 L177.50 223.87 L178.50 225.40 L179.50 227.08 L180.50 228.96 L181.50 231.05 L182.50 233.31 L183.50 235.67 L184.50 238.05 L185.50 240.43 L186.50 242.79 L187.50 245.14 L188.50 247.51 L189.50 249.91 L190.50 252.35 L191.50 254.82 L192.50 257.32 L193.50 259.81 L194.50 262.29 L195.50 264.72 L196.50 267.09 L197.50 269.40 L198.50 271.64 L199.50 273.81 L200.50 275.89 L201.50 277.89 L202.50 279.79 L203.50 281.58 L204.50 283.23 L205.50 284.75 L206.50 286.18 L207.50 287.56 L208.50 288.91 L209.50 290.27 L210.50 291.63 L211.50 292.99 L212.50 294.34 L213.50 295.66 L214.50 296.91 L215.50 298.05 L216.50 299.06 L217.50 299.95 L218.50 300.74 L219.50 301.46 L220.50 302.15 L221.50 302.80 L222.50 303.43 L223.50 304.04 L224.50 304.64 L225.50 305.21 L226.50 305.77 L227.50 306.31 L228.50 306.83 L229.50 307.35 L230.50 307.85 L231.50 308.36 L232.50 308.87 L233.50 309.38 L234.50 309.89 L235.50 310.41 L236.50 310.91 L237.50 311.40 L238.50 311.89 L239.50 312.36 L240.50 312.82 L241.50 313.26 L242.50 313.69 L243.50 314.10 L244.50 314.48 L245.50 314.86 L246.50 315.23 L247.50 315.60 L248.50 315.98 L249.50 316.37 L250.50 316.77 L251.50 317.20 L252.50 317.65 L253.50 318.14 L254.50 318.67 L255.50 319.22 L256.50 319.78 L257.50 320.34 L258.50 320.89 L259.50 321.40 L260.50 321.87 L261.50 322.30 L262.50 322.70 L263.50 323.08 L264.50 323.43 L265.50 323.77 L266.50 324.08 L267.50 324.38 L268.50 324.66 L269.50 324.93 L270.50 325.19 L271.50 325.43 L272.50 325.66 L273.50 325.88 L274.50 326.08 L275.50 326.28 L276.50 326.47 L277.50 326.66 L278.50 326.84 L279.50 327.02 L280.50 327.21 L281.50 327.38 L282.50 327.55 L283.50 327.71 L284.50 327.86 L285.50 328.01 L286.50 328.15 L287.50 328.29 L288.50 328.43 L289.50 328.56 L290.50 328.68 L291.50 328.78 L292.50 328.87 L293.50 328.93 L294.50 328.97 L295.50 329.01 L296.50 329.04 L297.50 329.07 L298.50 329.10 L299.50 329.13 L300.50 329.16 L301.50 329.19 L302.50 329.22 L303.50 329.25 L304.50 329.28 L305.00 329.30" fill="none" stroke="#b94d9d" stroke-width="1.70" stroke-linejoin="round" stroke-linecap="round"/>
<path d="M43.50 289.20 L44.50 289.29 L45.50 289.37 L46.50 289.42 L47.50 289.43 L48.50 289.35 L49.50 289.19 L50.50 288.94 L51.50 288.62 L52.50 288.26 L53.50 287.87 L54.50 287.46 L55.50 287.02 L56.50 286.53 L57.50 285.99 L58.50 285.38 L59.50 284.71 L60.50 283.98 L61.50 283.18 L62.50 282.32 L63.50 281.39 L64.50 280.41 L65.50 279.39 L66.50 278.35 L67.50 277.30 L68.50 276.25 L69.50 275.20 L70.50 274.19 L71.50 273.22 L72.50 272.31 L73.50 271.44 L74.50 270.61 L75.50 269.79 L76.50 268.98 L77.50 268.17 L78.50 267.36 L79.50 266.55 L80.50 265.74 L81.50 264.93 L82.50 264.11 L83.50 263.28 L84.50 262.45 L85.50 261.61 L86.50 260.78 L87.50 259.95 L88.50 259.15 L89.50 258.38 L90.50 257.63 L91.50 256.88 L92.50 256.11 L93.50 255.29 L94.50 254.38 L95.50 253.38 L96.50 252.27 L97.50 251.03 L98.50 249.66 L99.50 248.18 L100.50 246.62 L101.50 245.08 L102.50 243.59 L103.50 242.19 L104.50 240.86 L105.50 239.57 L106.50 238.30 L107.50 237.04 L108.50 235.78 L109.50 234.52 L110.50 233.26 L111.50 231.99 L112.50 230.72 L113.50 229.48 L114.50 228.26 L115.50 227.08 L116.50 225.95 L117.50 224.87 L118.50 223.83 L119.50 222.83 L120.50 221.87 L121.50 220.96 L122.50 220.10 L123.50 219.27 L124.50 218.46 L125.50 217.66 L126.50 216.86 L127.50 216.07 L128.50 215.27 L129.50 214.49 L130.50 213.71 L131.50 212.95 L132.50 212.21 L133.50 211.48 L134.50 210.77 L135.50 210.08 L136.50 209.41 L137.50 208.75 L138.50 208.11 L139.50 207.49 L140.50 206.88 L141.50 206.30 L142.50 205.74 L143.50 205.21 L144.50 204.71 L145.50 204.27 L146.50 203.89 L147.50 203.59 L148.50 203.38 L149.50 203.23 L150.50 203.14 L151.50 203.11 L152.50 203.11 L153.50 203.14 L154.50 203.20 L155.50 203.29 L156.50 203.42 L157.50 203.61 L158.50 203.85 L159.50 204.16 L160.50 204.54 L161.50 204.97 L162.50 205.45 L163.50 206.00 L164.50 206.64 L165.50 207.35 L166.50 208.15 L167.50 209.01 L168.50 209.92 L169.50 210.86 L170.50 211.84 L171.50 212.84 L172.50 213.87 L173.50 214.92 L174.50 216.01 L175.50 217.13 L176.50 218.29 L177.50 219.51 L178.50 220.77 L179.50 222.10 L180.50 223.51 L181.50 225.01 L182.50 226.67 L183.50 228.52 L184.50 230.57 L185.50 232.78 L186.50 235.09 L187.50 237.39 L188.50 239.65 L189.50 241.85 L190.50 243.96 L191.50 246.00 L192.50 247.95 L193.50 249.83 L194.50 251.64 L195.50 253.42 L196.50 255.17 L197.50 256.92 L198.50 258.68 L199.50 260.44 L200.50 262.21 L201.50 263.98 L202.50 265.74 L203.50 267.49 L204.50 269.19 L205.50 270.84 L206.50 272.40 L207.50 273.87 L208.50 275.27 L209.50 276.64 L210.50 277.99 L211.50 279.35 L212.50 280.71 L213.50 282.07 L214.50 283.39 L215.50 284.63 L216.50 285.78 L217.50 286.82 L218.50 287.80 L219.50 288.72 L220.50 289.61 L221.50 290.47 L222.50 291.30 L223.50 292.12 L224.50 292.92 L225.50 293.72 L226.50 294.52 L227.50 295.32 L228.50 296.11 L229.50 296.91 L230.50 297.71 L231.50 298.50 L232.50 299.30 L233.50 300.09 L234.50 300.88 L235.50 301.67 L236.50 302.44 L237.50 303.20 L238.50 303.94 L239.50 304.66 L240.50 305.38 L241.50 306.09 L242.50 306.80 L243.50 307.51 L244.50 308.22 L245.50 308.93 L246.50 309.64 L247.50 310.35 L248.50 311.06 L249.50 311.76 L250.50 312.46 L251.50 313.15 L252.50 313.81 L253.50 314.45 L254.50 315.07 L255.50 315.66 L256.50 316.25 L257.50 316.83 L258.50 317.41 L259.50 317.98 L260.50 318.56 L261.50 319.12 L262.50 319.68 L263.50 320.20 L264.50 320.69 L265.50 321.15 L266.50 321.57 L267.50 321.97 L268.50 322.35 L269.50 322.72 L270.50 323.08 L271.50 323.42 L272.50 323.75 L273.50 324.06 L274.50 324.36 L275.50 324.63 L276.50 324.90 L277.50 325.17 L278.50 325.43 L279.50 325.69 L280.50 325.94 L281.50 326.18 L282.50 326.40 L283.50 326.60 L284.50 326.79 L285.50 326.97 L286.50 327.13 L287.50 327.30 L288.50 327.46 L289.50 327.62 L290.50 327.77 L291.50 327.92 L292.50 328.05 L293.50 328.17 L294.50 328.29 L295.50 328.40 L296.50 328.51 L297.50 328.62 L298.50 328.72 L299.50 328.82 L300.50 328.91 L301.50 328.99 L302.50 329.06 L303.50 329.12 L304.50 329.17 L305.00 329.20" fill="none" stroke="#62c6d2" stroke-width="1.70" stroke-linejoin="round" stroke-linecap="round"/>
<path d="M229.10 205.50h15.5" stroke="#a2a2a2" stroke-width="1.50"/>
<text x="250.50" y="207.50" font-size="9" style="fill:#2e2e2e;stroke:#2e2e2e;stroke-width:0.15px">WT</text>
<path d="M229.10 217.90h15.5" stroke="#111111" stroke-width="2.00"/>
<text x="250.50" y="219.90" font-size="9" style="fill:#2e2e2e;stroke:#2e2e2e;stroke-width:0.15px">W41Y</text>
<path d="M229.10 230.70h15.5" stroke="#b94d9d" stroke-width="1.70"/>
<text x="250.50" y="232.70" font-size="9" style="fill:#2e2e2e;stroke:#2e2e2e;stroke-width:0.15px">W41Y-6FW</text>
<path d="M229.10 242.80h15.5" stroke="#62c6d2" stroke-width="1.70"/>
<text x="250.50" y="244.80" font-size="9" style="fill:#2e2e2e;stroke:#2e2e2e;stroke-width:0.15px">WT-6FW</text>
<path d="M230.90 274.40V294.30" stroke="#1e1e1e" stroke-width="1.6"/>
<path d="M228.10 291.00L230.90 295.80L233.70 291.00L230.90 292.60Z" fill="#222"/>
<rect x="361.00" y="12.00" width="260.80" height="140.10" fill="none" stroke="#303030" stroke-width="1.8"/>
<path d="M361.00 152.00h3.20M621.80 152.00h-3.20" stroke="#303030" stroke-width="1.4"/>
<text x="358.60" y="152.00" text-anchor="end" font-size="11.5" style="fill:#444">0</text>
<path d="M361.00 126.56h3.20M621.80 126.56h-3.20" stroke="#303030" stroke-width="1.4"/>
<text x="358.60" y="130.16" text-anchor="end" font-size="11.5" style="fill:#444">0.2</text>
<path d="M361.00 101.12h3.20M621.80 101.12h-3.20" stroke="#303030" stroke-width="1.4"/>
<text x="358.60" y="104.72" text-anchor="end" font-size="11.5" style="fill:#444">0.4</text>
<path d="M361.00 75.68h3.20M621.80 75.68h-3.20" stroke="#303030" stroke-width="1.4"/>
<text x="358.60" y="79.28" text-anchor="end" font-size="11.5" style="fill:#444">0.6</text>
<path d="M361.00 50.24h3.20M621.80 50.24h-3.20" stroke="#303030" stroke-width="1.4"/>
<text x="358.60" y="53.84" text-anchor="end" font-size="11.5" style="fill:#444">0.8</text>
<path d="M361.00 24.80h3.20M621.80 24.80h-3.20" stroke="#303030" stroke-width="1.4"/>
<text x="358.60" y="27.90" text-anchor="end" font-size="11.5" style="fill:#444">1</text>
<path d="M361.00 152.10v-3.20M361.00 12.00v3.20" stroke="#303030" stroke-width="1.4"/>
<text x="362.00" y="166.10" text-anchor="middle" font-size="11.5" style="fill:#444">320</text>
<path d="M413.16 152.10v-3.20M413.16 12.00v3.20" stroke="#303030" stroke-width="1.4"/>
<text x="414.16" y="166.10" text-anchor="middle" font-size="11.5" style="fill:#444">340</text>
<path d="M465.32 152.10v-3.20M465.32 12.00v3.20" stroke="#303030" stroke-width="1.4"/>
<text x="466.32" y="166.10" text-anchor="middle" font-size="11.5" style="fill:#444">360</text>
<path d="M517.48 152.10v-3.20M517.48 12.00v3.20" stroke="#303030" stroke-width="1.4"/>
<text x="518.48" y="166.10" text-anchor="middle" font-size="11.5" style="fill:#444">380</text>
<path d="M569.64 152.10v-3.20M569.64 12.00v3.20" stroke="#303030" stroke-width="1.4"/>
<text x="570.64" y="166.10" text-anchor="middle" font-size="11.5" style="fill:#444">400</text>
<path d="M621.80 152.10v-3.20M621.80 12.00v3.20" stroke="#303030" stroke-width="1.4"/>
<text x="622.80" y="166.10" text-anchor="middle" font-size="11.5" style="fill:#444">420</text>
<text x="491.90" y="181.70" text-anchor="middle" font-size="12">Wavelength (nm)</text>
<text transform="translate(329.10 86.50) rotate(-90)" text-anchor="middle" font-size="12">Norm. Trp emission</text>
<text x="321.80" y="15.70" font-size="12.3" style="fill:#1e1e1e">C</text>
<path d="M361.20 54.50 L362.20 53.04 L363.20 51.58 L364.20 50.14 L365.20 48.74 L366.20 47.38 L367.20 46.08 L368.20 44.83 L369.20 43.62 L370.20 42.43 L371.20 41.27 L372.20 40.16 L373.20 39.08 L374.20 38.04 L375.20 37.03 L376.20 36.05 L377.20 35.12 L378.20 34.25 L379.20 33.43 L380.20 32.68 L381.20 31.96 L382.20 31.28 L383.20 30.64 L384.20 30.03 L385.20 29.46 L386.20 28.94 L387.20 28.45 L388.20 27.98 L389.20 27.55 L390.20 27.16 L391.20 26.81 L392.20 26.51 L393.20 26.24 L394.20 25.99 L395.20 25.77 L396.20 25.58 L397.20 25.43 L398.20 25.30 L399.20 25.20 L400.20 25.12 L401.20 25.05 L402.20 25.00 L403.20 24.97 L404.20 24.96 L405.20 24.97 L406.20 24.99 L407.20 25.02 L408.20 25.07 L409.20 25.12 L410.20 25.19 L411.20 25.25 L412.20 25.33 L413.20 25.41 L414.20 25.50 L415.20 25.60 L416.20 25.73 L417.20 25.89 L418.20 26.09 L419.20 26.31 L420.20 26.56 L421.20 26.82 L422.20 27.10 L423.20 27.38 L424.20 27.67 L425.20 27.97 L426.20 28.27 L427.20 28.59 L428.20 28.92 L429.20 29.26 L430.20 29.62 L431.20 29.99 L432.20 30.37 L433.20 30.76 L434.20 31.17 L435.20 31.59 L436.20 32.03 L437.20 32.49 L438.20 32.97 L439.20 33.46 L440.20 33.97 L441.20 34.51 L442.20 35.06 L443.20 35.64 L444.20 36.24 L445.20 36.85 L446.20 37.49 L447.20 38.15 L448.20 38.83 L449.20 39.52 L450.20 40.22 L451.20 40.93 L452.20 41.64 L453.20 42.36 L454.20 43.08 L455.20 43.80 L456.20 44.51 L457.20 45.23 L458.20 45.94 L459.20 46.65 L460.20 47.36 L461.20 48.07 L462.20 48.79 L463.20 49.51 L464.20 50.24 L465.20 50.97 L466.20 51.70 L467.20 52.42 L468.20 53.14 L469.20 53.86 L470.20 54.59 L471.20 55.35 L472.20 56.14 L473.20 56.96 L474.20 57.80 L475.20 58.64 L476.20 59.47 L477.20 60.30 L478.20 61.12 L479.20 61.95 L480.20 62.77 L481.20 63.60 L482.20 64.43 L483.20 65.27 L484.20 66.12 L485.20 66.96 L486.20 67.81 L487.20 68.65 L488.20 69.49 L489.20 70.33 L490.20 71.16 L491.20 71.97 L492.20 72.78 L493.20 73.57 L494.20 74.35 L495.20 75.12 L496.20 75.88 L497.20 76.63 L498.20 77.39 L499.20 78.15 L500.20 78.92 L501.20 79.71 L502.20 80.51 L503.20 81.32 L504.20 82.15 L505.20 82.99 L506.20 83.84 L507.20 84.71 L508.20 85.59 L509.20 86.46 L510.20 87.33 L511.20 88.18 L512.20 89.02 L513.20 89.84 L514.20 90.65 L515.20 91.43 L516.20 92.20 L517.20 92.93 L518.20 93.65 L519.20 94.35 L520.20 95.04 L521.20 95.74 L522.20 96.43 L523.20 97.13 L524.20 97.82 L525.20 98.52 L526.20 99.19 L527.20 99.86 L528.20 100.50 L529.20 101.13 L530.20 101.75 L531.20 102.36 L532.20 102.96 L533.20 103.57 L534.20 104.16 L535.20 104.76 L536.20 105.36 L537.20 105.97 L538.20 106.58 L539.20 107.20 L540.20 107.83 L541.20 108.45 L542.20 109.08 L543.20 109.70 L544.20 110.31 L545.20 110.91 L546.20 111.49 L547.20 112.05 L548.20 112.59 L549.20 113.13 L550.20 113.66 L551.20 114.18 L552.20 114.69 L553.20 115.20 L554.20 115.70 L555.20 116.20 L556.20 116.70 L557.20 117.20 L558.20 117.70 L559.20 118.20 L560.20 118.69 L561.20 119.18 L562.20 119.66 L563.20 120.13 L564.20 120.60 L565.20 121.06 L566.20 121.52 L567.20 121.98 L568.20 122.43 L569.20 122.87 L570.20 123.32 L571.20 123.75 L572.20 124.19 L573.20 124.61 L574.20 125.03 L575.20 125.44 L576.20 125.85 L577.20 126.25 L578.20 126.66 L579.20 127.06 L580.20 127.45 L581.20 127.83 L582.20 128.21 L583.20 128.58 L584.20 128.96 L585.20 129.33 L586.20 129.70 L587.20 130.07 L588.20 130.43 L589.20 130.80 L590.20 131.15 L591.20 131.50 L592.20 131.84 L593.20 132.17 L594.20 132.50 L595.20 132.83 L596.20 133.15 L597.20 133.47 L598.20 133.80 L599.20 134.11 L600.20 134.42 L601.20 134.72 L602.20 135.01 L603.20 135.28 L604.20 135.54 L605.20 135.79 L606.20 136.04 L607.20 136.29 L608.20 136.53 L609.20 136.78 L610.20 137.02 L611.20 137.24 L612.20 137.45 L613.20 137.64 L614.20 137.81 L615.20 137.97 L616.20 138.11 L617.20 138.26 L618.20 138.40 L619.20 138.54 L620.20 138.68 L621.20 138.82 L621.70 138.89" fill="none" stroke="#a2a2a2" stroke-width="1.30" stroke-linejoin="round" stroke-linecap="round"/>
<path d="M361.20 58.53 L362.20 57.44 L363.20 56.34 L364.20 55.24 L365.20 54.13 L366.20 53.02 L367.20 51.90 L368.20 50.76 L369.20 49.63 L370.20 48.49 L371.20 47.35 L372.20 46.22 L373.20 45.09 L374.20 43.98 L375.20 42.87 L376.20 41.78 L377.20 40.73 L378.20 39.74 L379.20 38.80 L380.20 37.91 L381.20 37.07 L382.20 36.26 L383.20 35.49 L384.20 34.77 L385.20 34.09 L386.20 33.46 L387.20 32.86 L388.20 32.28 L389.20 31.72 L390.20 31.18 L391.20 30.66 L392.20 30.16 L393.20 29.67 L394.20 29.21 L395.20 28.76 L396.20 28.35 L397.20 27.98 L398.20 27.64 L399.20 27.33 L400.20 27.04 L401.20 26.76 L402.20 26.50 L403.20 26.25 L404.20 26.02 L405.20 25.82 L406.20 25.64 L407.20 25.50 L408.20 25.41 L409.20 25.35 L410.20 25.33 L411.20 25.33 L412.20 25.36 L413.20 25.40 L414.20 25.46 L415.20 25.54 L416.20 25.65 L417.20 25.80 L418.20 25.99 L419.20 26.22 L420.20 26.46 L421.20 26.72 L422.20 27.00 L423.20 27.28 L424.20 27.57 L425.20 27.87 L426.20 28.17 L427.20 28.49 L428.20 28.82 L429.20 29.16 L430.20 29.52 L431.20 29.89 L432.20 30.27 L433.20 30.66 L434.20 31.07 L435.20 31.49 L436.20 31.93 L437.20 32.39 L438.20 32.87 L439.20 33.36 L440.20 33.87 L441.20 34.41 L442.20 34.96 L443.20 35.54 L444.20 36.14 L445.20 36.75 L446.20 37.39 L447.20 38.05 L448.20 38.73 L449.20 39.42 L450.20 40.12 L451.20 40.83 L452.20 41.54 L453.20 42.26 L454.20 42.98 L455.20 43.70 L456.20 44.41 L457.20 45.13 L458.20 45.84 L459.20 46.55 L460.20 47.26 L461.20 47.97 L462.20 48.69 L463.20 49.41 L464.20 50.14 L465.20 50.87 L466.20 51.60 L467.20 52.32 L468.20 53.04 L469.20 53.76 L470.20 54.49 L471.20 55.25 L472.20 56.04 L473.20 56.86 L474.20 57.70 L475.20 58.54 L476.20 59.37 L477.20 60.20 L478.20 61.02 L479.20 61.85 L480.20 62.67 L481.20 63.50 L482.20 64.33 L483.20 65.17 L484.20 66.02 L485.20 66.86 L486.20 67.71 L487.20 68.55 L488.20 69.39 L489.20 70.23 L490.20 71.06 L491.20 71.87 L492.20 72.68 L493.20 73.47 L494.20 74.25 L495.20 75.02 L496.20 75.78 L497.20 76.53 L498.20 77.29 L499.20 78.05 L500.20 78.82 L501.20 79.61 L502.20 80.41 L503.20 81.22 L504.20 82.05 L505.20 82.89 L506.20 83.74 L507.20 84.61 L508.20 85.49 L509.20 86.36 L510.20 87.23 L511.20 88.08 L512.20 88.92 L513.20 89.74 L514.20 90.55 L515.20 91.33 L516.20 92.10 L517.20 92.83 L518.20 93.55 L519.20 94.25 L520.20 94.94 L521.20 95.64 L522.20 96.33 L523.20 97.03 L524.20 97.72 L525.20 98.42 L526.20 99.09 L527.20 99.76 L528.20 100.40 L529.20 101.03 L530.20 101.65 L531.20 102.26 L532.20 102.86 L533.20 103.47 L534.20 104.06 L535.20 104.66 L536.20 105.26 L537.20 105.87 L538.20 106.48 L539.20 107.10 L540.20 107.73 L541.20 108.35 L542.20 108.98 L543.20 109.60 L544.20 110.21 L545.20 110.81 L546.20 111.39 L547.20 111.95 L548.20 112.49 L549.20 113.03 L550.20 113.56 L551.20 114.08 L552.20 114.59 L553.20 115.10 L554.20 115.60 L555.20 116.10 L556.20 116.60 L557.20 117.10 L558.20 117.60 L559.20 118.10 L560.20 118.59 L561.20 119.08 L562.20 119.56 L563.20 120.03 L564.20 120.50 L565.20 120.96 L566.20 121.42 L567.20 121.88 L568.20 122.33 L569.20 122.77 L570.20 123.22 L571.20 123.65 L572.20 124.09 L573.20 124.51 L574.20 124.93 L575.20 125.34 L576.20 125.75 L577.20 126.15 L578.20 126.56 L579.20 126.96 L580.20 127.35 L581.20 127.73 L582.20 128.11 L583.20 128.48 L584.20 128.86 L585.20 129.23 L586.20 129.60 L587.20 129.97 L588.20 130.33 L589.20 130.70 L590.20 131.05 L591.20 131.40 L592.20 131.74 L593.20 132.07 L594.20 132.40 L595.20 132.73 L596.20 133.05 L597.20 133.37 L598.20 133.70 L599.20 134.01 L600.20 134.32 L601.20 134.62 L602.20 134.91 L603.20 135.18 L604.20 135.44 L605.20 135.69 L606.20 135.94 L607.20 136.19 L608.20 136.43 L609.20 136.68 L610.20 136.92 L611.20 137.14 L612.20 137.35 L613.20 137.54 L614.20 137.71 L615.20 137.87 L616.20 138.01 L617.20 138.16 L618.20 138.30 L619.20 138.44 L620.20 138.58 L621.20 138.72 L621.70 138.79" fill="none" stroke="#111111" stroke-width="1.90" stroke-linejoin="round" stroke-linecap="round"/>
<path d="M361.20 56.04 L362.20 54.77 L363.20 53.50 L364.20 52.23 L365.20 50.96 L366.20 49.71 L367.20 48.46 L368.20 47.23 L369.20 46.00 L370.20 44.79 L371.20 43.61 L372.20 42.47 L373.20 41.37 L374.20 40.31 L375.20 39.28 L376.20 38.29 L377.20 37.34 L378.20 36.45 L379.20 35.62 L380.20 34.84 L381.20 34.11 L382.20 33.42 L383.20 32.75 L384.20 32.12 L385.20 31.53 L386.20 30.97 L387.20 30.45 L388.20 29.94 L389.20 29.46 L390.20 29.01 L391.20 28.59 L392.20 28.20 L393.20 27.83 L394.20 27.49 L395.20 27.17 L396.20 26.87 L397.20 26.62 L398.20 26.40 L399.20 26.20 L400.20 26.02 L401.20 25.86 L402.20 25.71 L403.20 25.57 L404.20 25.45 L405.20 25.36 L406.20 25.28 L407.20 25.23 L408.20 25.20 L409.20 25.21 L410.20 25.24 L411.20 25.29 L412.20 25.36 L413.20 25.45 L414.20 25.55 L415.20 25.67 L416.20 25.82 L417.20 26.00 L418.20 26.22 L419.20 26.46 L420.20 26.73 L421.20 27.01 L422.20 27.31 L423.20 27.61 L424.20 27.92 L425.20 28.24 L426.20 28.57 L427.20 28.91 L428.20 29.27 L429.20 29.64 L430.20 30.02 L431.20 30.41 L432.20 30.81 L433.20 31.22 L434.20 31.64 L435.20 32.07 L436.20 32.52 L437.20 32.98 L438.20 33.46 L439.20 33.96 L440.20 34.47 L441.20 35.01 L442.20 35.56 L443.20 36.14 L444.20 36.74 L445.20 37.35 L446.20 37.99 L447.20 38.65 L448.20 39.33 L449.20 40.02 L450.20 40.72 L451.20 41.43 L452.20 42.14 L453.20 42.86 L454.20 43.58 L455.20 44.30 L456.20 45.01 L457.20 45.73 L458.20 46.44 L459.20 47.15 L460.20 47.86 L461.20 48.57 L462.20 49.29 L463.20 50.01 L464.20 50.74 L465.20 51.47 L466.20 52.20 L467.20 52.92 L468.20 53.64 L469.20 54.36 L470.20 55.09 L471.20 55.85 L472.20 56.64 L473.20 57.46 L474.20 58.30 L475.20 59.14 L476.20 59.97 L477.20 60.80 L478.20 61.62 L479.20 62.45 L480.20 63.27 L481.20 64.10 L482.20 64.93 L483.20 65.77 L484.20 66.62 L485.20 67.46 L486.20 68.31 L487.20 69.15 L488.20 69.99 L489.20 70.83 L490.20 71.66 L491.20 72.47 L492.20 73.28 L493.20 74.07 L494.20 74.85 L495.20 75.62 L496.20 76.38 L497.20 77.13 L498.20 77.89 L499.20 78.65 L500.20 79.42 L501.20 80.21 L502.20 81.01 L503.20 81.82 L504.20 82.65 L505.20 83.49 L506.20 84.34 L507.20 85.21 L508.20 86.09 L509.20 86.96 L510.20 87.82 L511.20 88.66 L512.20 89.49 L513.20 90.29 L514.20 91.08 L515.20 91.85 L516.20 92.60 L517.20 93.32 L518.20 94.01 L519.20 94.69 L520.20 95.37 L521.20 96.04 L522.20 96.72 L523.20 97.40 L524.20 98.08 L525.20 98.75 L526.20 99.41 L527.20 100.05 L528.20 100.68 L529.20 101.29 L530.20 101.89 L531.20 102.48 L532.20 103.06 L533.20 103.63 L534.20 104.19 L535.20 104.75 L536.20 105.31 L537.20 105.86 L538.20 106.42 L539.20 106.98 L540.20 107.55 L541.20 108.13 L542.20 108.70 L543.20 109.28 L544.20 109.85 L545.20 110.40 L546.20 110.93 L547.20 111.44 L548.20 111.94 L549.20 112.42 L550.20 112.89 L551.20 113.35 L552.20 113.81 L553.20 114.26 L554.20 114.71 L555.20 115.16 L556.20 115.60 L557.20 116.04 L558.20 116.49 L559.20 116.93 L560.20 117.38 L561.20 117.82 L562.20 118.27 L563.20 118.71 L564.20 119.15 L565.20 119.60 L566.20 120.04 L567.20 120.47 L568.20 120.90 L569.20 121.33 L570.20 121.76 L571.20 122.19 L572.20 122.61 L573.20 123.03 L574.20 123.46 L575.20 123.88 L576.20 124.30 L577.20 124.71 L578.20 125.12 L579.20 125.52 L580.20 125.90 L581.20 126.26 L582.20 126.60 L583.20 126.93 L584.20 127.26 L585.20 127.58 L586.20 127.91 L587.20 128.23 L588.20 128.55 L589.20 128.86 L590.20 129.17 L591.20 129.45 L592.20 129.73 L593.20 129.99 L594.20 130.25 L595.20 130.50 L596.20 130.75 L597.20 131.00 L598.20 131.25 L599.20 131.49 L600.20 131.73 L601.20 131.96 L602.20 132.19 L603.20 132.39 L604.20 132.60 L605.20 132.79 L606.20 132.99 L607.20 133.18 L608.20 133.37 L609.20 133.56 L610.20 133.75 L611.20 133.93 L612.20 134.09 L613.20 134.25 L614.20 134.38 L615.20 134.51 L616.20 134.64 L617.20 134.76 L618.20 134.87 L619.20 134.99 L620.20 135.11 L621.20 135.23 L621.70 135.29" fill="none" stroke="#63b53c" stroke-width="1.70" stroke-linejoin="round" stroke-linecap="round"/>
<path d="M360.80 107.90 L361.80 106.45 L362.80 105.00 L363.80 103.56 L364.80 102.11 L365.80 100.66 L366.80 99.21 L367.80 97.76 L368.80 96.30 L369.80 94.84 L370.80 93.38 L371.80 91.92 L372.80 90.46 L373.80 89.01 L374.80 87.59 L375.80 86.20 L376.80 84.83 L377.80 83.48 L378.80 82.14 L379.80 80.80 L380.80 79.47 L381.80 78.13 L382.80 76.80 L383.80 75.47 L384.80 74.13 L385.80 72.79 L386.80 71.43 L387.80 70.06 L388.80 68.67 L389.80 67.27 L390.80 65.86 L391.80 64.46 L392.80 63.06 L393.80 61.68 L394.80 60.32 L395.80 58.97 L396.80 57.63 L397.80 56.33 L398.80 55.07 L399.80 53.88 L400.80 52.77 L401.80 51.72 L402.80 50.69 L403.80 49.63 L404.80 48.51 L405.80 47.33 L406.80 46.11 L407.80 44.85 L408.80 43.57 L409.80 42.30 L410.80 41.07 L411.80 39.89 L412.80 38.79 L413.80 37.79 L414.80 36.86 L415.80 36.00 L416.80 35.20 L417.80 34.47 L418.80 33.79 L419.80 33.17 L420.80 32.60 L421.80 32.08 L422.80 31.60 L423.80 31.16 L424.80 30.74 L425.80 30.33 L426.80 29.92 L427.80 29.50 L428.80 29.08 L429.80 28.64 L430.80 28.19 L431.80 27.73 L432.80 27.27 L433.80 26.84 L434.80 26.44 L435.80 26.09 L436.80 25.80 L437.80 25.55 L438.80 25.33 L439.80 25.14 L440.80 24.97 L441.80 24.83 L442.80 24.70 L443.80 24.60 L444.80 24.52 L445.80 24.48 L446.80 24.49 L447.80 24.53 L448.80 24.62 L449.80 24.73 L450.80 24.86 L451.80 25.01 L452.80 25.18 L453.80 25.37 L454.80 25.57 L455.80 25.79 L456.80 26.02 L457.80 26.28 L458.80 26.55 L459.80 26.84 L460.80 27.15 L461.80 27.47 L462.80 27.81 L463.80 28.17 L464.80 28.55 L465.80 28.94 L466.80 29.35 L467.80 29.79 L468.80 30.27 L469.80 30.80 L470.80 31.39 L471.80 32.03 L472.80 32.71 L473.80 33.41 L474.80 34.13 L475.80 34.85 L476.80 35.56 L477.80 36.26 L478.80 36.93 L479.80 37.57 L480.80 38.20 L481.80 38.82 L482.80 39.44 L483.80 40.08 L484.80 40.75 L485.80 41.43 L486.80 42.12 L487.80 42.82 L488.80 43.52 L489.80 44.22 L490.80 44.93 L491.80 45.63 L492.80 46.33 L493.80 47.04 L494.80 47.74 L495.80 48.45 L496.80 49.15 L497.80 49.86 L498.80 50.58 L499.80 51.31 L500.80 52.05 L501.80 52.81 L502.80 53.57 L503.80 54.35 L504.80 55.13 L505.80 55.92 L506.80 56.72 L507.80 57.54 L508.80 58.39 L509.80 59.27 L510.80 60.18 L511.80 61.10 L512.80 62.02 L513.80 62.92 L514.80 63.78 L515.80 64.61 L516.80 65.42 L517.80 66.20 L518.80 66.98 L519.80 67.76 L520.80 68.53 L521.80 69.31 L522.80 70.10 L523.80 70.88 L524.80 71.68 L525.80 72.47 L526.80 73.27 L527.80 74.06 L528.80 74.86 L529.80 75.65 L530.80 76.45 L531.80 77.25 L532.80 78.05 L533.80 78.86 L534.80 79.67 L535.80 80.48 L536.80 81.29 L537.80 82.10 L538.80 82.92 L539.80 83.73 L540.80 84.55 L541.80 85.36 L542.80 86.16 L543.80 86.96 L544.80 87.75 L545.80 88.52 L546.80 89.29 L547.80 90.06 L548.80 90.83 L549.80 91.60 L550.80 92.37 L551.80 93.13 L552.80 93.89 L553.80 94.62 L554.80 95.31 L555.80 95.96 L556.80 96.59 L557.80 97.21 L558.80 97.84 L559.80 98.48 L560.80 99.15 L561.80 99.83 L562.80 100.53 L563.80 101.23 L564.80 101.93 L565.80 102.63 L566.80 103.33 L567.80 104.02 L568.80 104.69 L569.80 105.33 L570.80 105.93 L571.80 106.49 L572.80 107.02 L573.80 107.52 L574.80 107.98 L575.80 108.42 L576.80 108.84 L577.80 109.23 L578.80 109.62 L579.80 110.03 L580.80 110.46 L581.80 110.91 L582.80 111.38 L583.80 111.87 L584.80 112.36 L585.80 112.85 L586.80 113.33 L587.80 113.82 L588.80 114.30 L589.80 114.75 L590.80 115.19 L591.80 115.60 L592.80 115.98 L593.80 116.35 L594.80 116.71 L595.80 117.06 L596.80 117.41 L597.80 117.76 L598.80 118.11 L599.80 118.45 L600.80 118.79 L601.80 119.12 L602.80 119.43 L603.80 119.74 L604.80 120.04 L605.80 120.33 L606.80 120.63 L607.80 120.92 L608.80 121.21 L609.80 121.49 L610.80 121.77 L611.80 122.02 L612.80 122.24 L613.80 122.43 L614.80 122.60 L615.80 122.75 L616.80 122.90 L617.80 123.04 L618.80 123.18 L619.80 123.32 L620.80 123.46 L621.80 123.60" fill="none" stroke="#e02331" stroke-width="1.70" stroke-linejoin="round" stroke-linecap="round"/>
<path d="M547.20 26.10h15.5" stroke="#a2a2a2" stroke-width="1.50"/>
<text x="568.70" y="28.10" font-size="9" style="fill:#2e2e2e;stroke:#2e2e2e;stroke-width:0.15px">WT</text>
<path d="M547.20 38.90h15.5" stroke="#111111" stroke-width="2.00"/>
<text x="568.70" y="40.90" font-size="9" style="fill:#2e2e2e;stroke:#2e2e2e;stroke-width:0.15px">W41Y</text>
<path d="M547.20 51.20h15.5" stroke="#63b53c" stroke-width="1.70"/>
<text x="568.70" y="53.20" font-size="9" style="fill:#2e2e2e;stroke:#2e2e2e;stroke-width:0.15px">W41Y-5FW</text>
<path d="M547.20 63.80h15.5" stroke="#e02331" stroke-width="1.70"/>
<text x="568.70" y="65.80" font-size="9" style="fill:#2e2e2e;stroke:#2e2e2e;stroke-width:0.15px">WT-5FW</text>
<path d="M415.10 21.30H436.30" stroke="#1e1e1e" stroke-width="1.6"/>
<path d="M433.00 18.50L437.80 21.30L433.00 24.10L434.60 21.30Z" fill="#222"/>
<rect x="361.00" y="190.50" width="260.80" height="139.40" fill="none" stroke="#303030" stroke-width="1.8"/>
<path d="M361.00 329.80h3.20M621.80 329.80h-3.20" stroke="#303030" stroke-width="1.4"/>
<text x="358.60" y="328.80" text-anchor="end" font-size="11.5" style="fill:#444">0</text>
<path d="M361.00 304.48h3.20M621.80 304.48h-3.20" stroke="#303030" stroke-width="1.4"/>
<text x="358.60" y="308.08" text-anchor="end" font-size="11.5" style="fill:#444">0.2</text>
<path d="M361.00 279.16h3.20M621.80 279.16h-3.20" stroke="#303030" stroke-width="1.4"/>
<text x="358.60" y="282.76" text-anchor="end" font-size="11.5" style="fill:#444">0.4</text>
<path d="M361.00 253.84h3.20M621.80 253.84h-3.20" stroke="#303030" stroke-width="1.4"/>
<text x="358.60" y="257.44" text-anchor="end" font-size="11.5" style="fill:#444">0.6</text>
<path d="M361.00 228.52h3.20M621.80 228.52h-3.20" stroke="#303030" stroke-width="1.4"/>
<text x="358.60" y="232.12" text-anchor="end" font-size="11.5" style="fill:#444">0.8</text>
<path d="M361.00 203.20h3.20M621.80 203.20h-3.20" stroke="#303030" stroke-width="1.4"/>
<text x="358.60" y="205.80" text-anchor="end" font-size="11.5" style="fill:#444">1</text>
<path d="M361.00 329.90v-3.20M361.00 190.50v3.20" stroke="#303030" stroke-width="1.4"/>
<text x="362.00" y="343.90" text-anchor="middle" font-size="11.5" style="fill:#444">320</text>
<path d="M413.16 329.90v-3.20M413.16 190.50v3.20" stroke="#303030" stroke-width="1.4"/>
<text x="414.16" y="343.90" text-anchor="middle" font-size="11.5" style="fill:#444">340</text>
<path d="M465.32 329.90v-3.20M465.32 190.50v3.20" stroke="#303030" stroke-width="1.4"/>
<text x="466.32" y="343.90" text-anchor="middle" font-size="11.5" style="fill:#444">360</text>
<path d="M517.48 329.90v-3.20M517.48 190.50v3.20" stroke="#303030" stroke-width="1.4"/>
<text x="518.48" y="343.90" text-anchor="middle" font-size="11.5" style="fill:#444">380</text>
<path d="M569.64 329.90v-3.20M569.64 190.50v3.20" stroke="#303030" stroke-width="1.4"/>
<text x="570.64" y="343.90" text-anchor="middle" font-size="11.5" style="fill:#444">400</text>
<path d="M621.80 329.90v-3.20M621.80 190.50v3.20" stroke="#303030" stroke-width="1.4"/>
<text x="622.80" y="343.90" text-anchor="middle" font-size="11.5" style="fill:#444">420</text>
<text x="491.90" y="359.50" text-anchor="middle" font-size="12">Wavelength (nm)</text>
<text transform="translate(329.10 264.80) rotate(-90)" text-anchor="middle" font-size="12">Norm. Trp emission</text>
<text x="321.90" y="199.40" font-size="12.3" style="fill:#1e1e1e">D</text>
<path d="M361.20 231.30 L362.20 230.22 L363.20 229.13 L364.20 228.04 L365.20 226.95 L366.20 225.84 L367.20 224.71 L368.20 223.58 L369.20 222.44 L370.20 221.30 L371.20 220.17 L372.20 219.05 L373.20 217.94 L374.20 216.85 L375.20 215.77 L376.20 214.70 L377.20 213.67 L378.20 212.68 L379.20 211.73 L380.20 210.83 L381.20 209.97 L382.20 209.16 L383.20 208.42 L384.20 207.76 L385.20 207.19 L386.20 206.70 L387.20 206.26 L388.20 205.88 L389.20 205.55 L390.20 205.25 L391.20 204.98 L392.20 204.74 L393.20 204.52 L394.20 204.33 L395.20 204.15 L396.20 204.00 L397.20 203.87 L398.20 203.75 L399.20 203.66 L400.20 203.58 L401.20 203.52 L402.20 203.47 L403.20 203.44 L404.20 203.42 L405.20 203.41 L406.20 203.40 L407.20 203.40 L408.20 203.41 L409.20 203.42 L410.20 203.45 L411.20 203.48 L412.20 203.52 L413.20 203.57 L414.20 203.62 L415.20 203.69 L416.20 203.76 L417.20 203.85 L418.20 203.94 L419.20 204.05 L420.20 204.18 L421.20 204.32 L422.20 204.49 L423.20 204.68 L424.20 204.89 L425.20 205.12 L426.20 205.35 L427.20 205.58 L428.20 205.82 L429.20 206.07 L430.20 206.34 L431.20 206.61 L432.20 206.91 L433.20 207.21 L434.20 207.52 L435.20 207.84 L436.20 208.16 L437.20 208.49 L438.20 208.85 L439.20 209.23 L440.20 209.65 L441.20 210.10 L442.20 210.57 L443.20 211.06 L444.20 211.57 L445.20 212.11 L446.20 212.67 L447.20 213.26 L448.20 213.86 L449.20 214.49 L450.20 215.13 L451.20 215.79 L452.20 216.48 L453.20 217.19 L454.20 217.91 L455.20 218.64 L456.20 219.38 L457.20 220.13 L458.20 220.88 L459.20 221.64 L460.20 222.40 L461.20 223.17 L462.20 223.93 L463.20 224.70 L464.20 225.47 L465.20 226.23 L466.20 227.00 L467.20 227.77 L468.20 228.53 L469.20 229.30 L470.20 230.07 L471.20 230.83 L472.20 231.60 L473.20 232.36 L474.20 233.13 L475.20 233.89 L476.20 234.64 L477.20 235.40 L478.20 236.15 L479.20 236.91 L480.20 237.67 L481.20 238.44 L482.20 239.22 L483.20 240.01 L484.20 240.81 L485.20 241.61 L486.20 242.42 L487.20 243.24 L488.20 244.07 L489.20 244.91 L490.20 245.75 L491.20 246.60 L492.20 247.45 L493.20 248.30 L494.20 249.15 L495.20 250.00 L496.20 250.85 L497.20 251.69 L498.20 252.54 L499.20 253.37 L500.20 254.20 L501.20 255.03 L502.20 255.85 L503.20 256.67 L504.20 257.48 L505.20 258.30 L506.20 259.12 L507.20 259.93 L508.20 260.75 L509.20 261.57 L510.20 262.39 L511.20 263.21 L512.20 264.04 L513.20 264.87 L514.20 265.70 L515.20 266.52 L516.20 267.34 L517.20 268.15 L518.20 268.94 L519.20 269.72 L520.20 270.49 L521.20 271.25 L522.20 272.01 L523.20 272.75 L524.20 273.47 L525.20 274.19 L526.20 274.89 L527.20 275.59 L528.20 276.28 L529.20 276.96 L530.20 277.63 L531.20 278.29 L532.20 278.94 L533.20 279.58 L534.20 280.21 L535.20 280.82 L536.20 281.41 L537.20 281.98 L538.20 282.54 L539.20 283.09 L540.20 283.64 L541.20 284.17 L542.20 284.70 L543.20 285.23 L544.20 285.75 L545.20 286.27 L546.20 286.80 L547.20 287.34 L548.20 287.89 L549.20 288.44 L550.20 289.00 L551.20 289.57 L552.20 290.13 L553.20 290.70 L554.20 291.27 L555.20 291.83 L556.20 292.40 L557.20 292.96 L558.20 293.51 L559.20 294.06 L560.20 294.60 L561.20 295.12 L562.20 295.65 L563.20 296.16 L564.20 296.67 L565.20 297.17 L566.20 297.67 L567.20 298.16 L568.20 298.64 L569.20 299.12 L570.20 299.59 L571.20 300.05 L572.20 300.49 L573.20 300.92 L574.20 301.35 L575.20 301.76 L576.20 302.18 L577.20 302.59 L578.20 302.99 L579.20 303.40 L580.20 303.80 L581.20 304.19 L582.20 304.59 L583.20 304.97 L584.20 305.35 L585.20 305.73 L586.20 306.10 L587.20 306.46 L588.20 306.83 L589.20 307.19 L590.20 307.54 L591.20 307.90 L592.20 308.25 L593.20 308.59 L594.20 308.93 L595.20 309.26 L596.20 309.58 L597.20 309.89 L598.20 310.20 L599.20 310.50 L600.20 310.79 L601.20 311.09 L602.20 311.38 L603.20 311.66 L604.20 311.95 L605.20 312.22 L606.20 312.50 L607.20 312.76 L608.20 313.01 L609.20 313.26 L610.20 313.50 L611.20 313.73 L612.20 313.95 L613.20 314.17 L614.20 314.39 L615.20 314.59 L616.20 314.80 L617.20 315.00 L618.20 315.20 L619.20 315.39 L620.20 315.59 L621.20 315.78 L621.70 315.88" fill="none" stroke="#a2a2a2" stroke-width="1.30" stroke-linejoin="round" stroke-linecap="round"/>
<path d="M361.20 236.90 L362.20 235.80 L363.20 234.70 L364.20 233.59 L365.20 232.49 L366.20 231.39 L367.20 230.29 L368.20 229.20 L369.20 228.10 L370.20 227.01 L371.20 225.93 L372.20 224.86 L373.20 223.82 L374.20 222.78 L375.20 221.76 L376.20 220.75 L377.20 219.76 L378.20 218.79 L379.20 217.84 L380.20 216.92 L381.20 216.01 L382.20 215.13 L383.20 214.28 L384.20 213.48 L385.20 212.72 L386.20 212.02 L387.20 211.35 L388.20 210.71 L389.20 210.09 L390.20 209.49 L391.20 208.92 L392.20 208.37 L393.20 207.86 L394.20 207.39 L395.20 206.96 L396.20 206.57 L397.20 206.20 L398.20 205.87 L399.20 205.57 L400.20 205.30 L401.20 205.05 L402.20 204.83 L403.20 204.65 L404.20 204.50 L405.20 204.37 L406.20 204.27 L407.20 204.19 L408.20 204.14 L409.20 204.10 L410.20 204.07 L411.20 204.05 L412.20 204.05 L413.20 204.05 L414.20 204.06 L415.20 204.10 L416.20 204.15 L417.20 204.23 L418.20 204.31 L419.20 204.40 L420.20 204.51 L421.20 204.64 L422.20 204.80 L423.20 204.99 L424.20 205.20 L425.20 205.42 L426.20 205.65 L427.20 205.88 L428.20 206.12 L429.20 206.38 L430.20 206.64 L431.20 206.92 L432.20 207.22 L433.20 207.53 L434.20 207.84 L435.20 208.16 L436.20 208.50 L437.20 208.85 L438.20 209.24 L439.20 209.67 L440.20 210.14 L441.20 210.64 L442.20 211.16 L443.20 211.69 L444.20 212.23 L445.20 212.80 L446.20 213.40 L447.20 214.04 L448.20 214.71 L449.20 215.40 L450.20 216.10 L451.20 216.81 L452.20 217.54 L453.20 218.27 L454.20 219.01 L455.20 219.75 L456.20 220.51 L457.20 221.26 L458.20 222.03 L459.20 222.80 L460.20 223.58 L461.20 224.36 L462.20 225.15 L463.20 225.93 L464.20 226.72 L465.20 227.51 L466.20 228.30 L467.20 229.08 L468.20 229.87 L469.20 230.67 L470.20 231.47 L471.20 232.27 L472.20 233.08 L473.20 233.90 L474.20 234.71 L475.20 235.53 L476.20 236.34 L477.20 237.15 L478.20 237.97 L479.20 238.78 L480.20 239.61 L481.20 240.44 L482.20 241.28 L483.20 242.13 L484.20 242.98 L485.20 243.84 L486.20 244.70 L487.20 245.57 L488.20 246.44 L489.20 247.31 L490.20 248.18 L491.20 249.06 L492.20 249.94 L493.20 250.82 L494.20 251.70 L495.20 252.58 L496.20 253.47 L497.20 254.35 L498.20 255.22 L499.20 256.08 L500.20 256.92 L501.20 257.75 L502.20 258.57 L503.20 259.38 L504.20 260.19 L505.20 261.00 L506.20 261.81 L507.20 262.62 L508.20 263.44 L509.20 264.25 L510.20 265.07 L511.20 265.88 L512.20 266.70 L513.20 267.51 L514.20 268.31 L515.20 269.10 L516.20 269.88 L517.20 270.65 L518.20 271.40 L519.20 272.15 L520.20 272.88 L521.20 273.59 L522.20 274.29 L523.20 274.96 L524.20 275.63 L525.20 276.29 L526.20 276.94 L527.20 277.60 L528.20 278.25 L529.20 278.90 L530.20 279.54 L531.20 280.17 L532.20 280.79 L533.20 281.37 L534.20 281.93 L535.20 282.46 L536.20 282.97 L537.20 283.47 L538.20 283.96 L539.20 284.46 L540.20 284.96 L541.20 285.47 L542.20 285.98 L543.20 286.48 L544.20 286.99 L545.20 287.51 L546.20 288.03 L547.20 288.55 L548.20 289.09 L549.20 289.64 L550.20 290.23 L551.20 290.83 L552.20 291.46 L553.20 292.10 L554.20 292.73 L555.20 293.35 L556.20 293.95 L557.20 294.53 L558.20 295.08 L559.20 295.62 L560.20 296.15 L561.20 296.67 L562.20 297.19 L563.20 297.71 L564.20 298.23 L565.20 298.74 L566.20 299.25 L567.20 299.74 L568.20 300.20 L569.20 300.65 L570.20 301.07 L571.20 301.47 L572.20 301.87 L573.20 302.27 L574.20 302.66 L575.20 303.05 L576.20 303.45 L577.20 303.84 L578.20 304.23 L579.20 304.62 L580.20 305.01 L581.20 305.39 L582.20 305.77 L583.20 306.15 L584.20 306.53 L585.20 306.90 L586.20 307.26 L587.20 307.62 L588.20 307.97 L589.20 308.31 L590.20 308.63 L591.20 308.95 L592.20 309.27 L593.20 309.58 L594.20 309.88 L595.20 310.18 L596.20 310.48 L597.20 310.77 L598.20 311.05 L599.20 311.32 L600.20 311.59 L601.20 311.86 L602.20 312.12 L603.20 312.39 L604.20 312.65 L605.20 312.91 L606.20 313.18 L607.20 313.43 L608.20 313.69 L609.20 313.93 L610.20 314.15 L611.20 314.37 L612.20 314.58 L613.20 314.78 L614.20 314.98 L615.20 315.18 L616.20 315.38 L617.20 315.58 L618.20 315.78 L619.20 315.98 L620.20 316.18 L621.20 316.38 L621.70 316.48" fill="none" stroke="#111111" stroke-width="1.90" stroke-linejoin="round" stroke-linecap="round"/>
<path d="M361.20 229.96 L362.20 229.46 L363.20 228.90 L364.20 228.26 L365.20 227.53 L366.20 226.71 L367.20 225.83 L368.20 224.90 L369.20 223.94 L370.20 222.97 L371.20 222.00 L372.20 221.03 L373.20 220.06 L374.20 219.11 L375.20 218.15 L376.20 217.20 L377.20 216.24 L378.20 215.29 L379.20 214.33 L380.20 213.38 L381.20 212.44 L382.20 211.54 L383.20 210.70 L384.20 209.95 L385.20 209.28 L386.20 208.70 L387.20 208.17 L388.20 207.69 L389.20 207.25 L390.20 206.84 L391.20 206.46 L392.20 206.11 L393.20 205.79 L394.20 205.50 L395.20 205.25 L396.20 205.02 L397.20 204.82 L398.20 204.64 L399.20 204.48 L400.20 204.35 L401.20 204.22 L402.20 204.12 L403.20 204.03 L404.20 203.96 L405.20 203.91 L406.20 203.86 L407.20 203.82 L408.20 203.77 L409.20 203.74 L410.20 203.70 L411.20 203.68 L412.20 203.68 L413.20 203.69 L414.20 203.72 L415.20 203.76 L416.20 203.81 L417.20 203.86 L418.20 203.92 L419.20 203.98 L420.20 204.06 L421.20 204.17 L422.20 204.31 L423.20 204.47 L424.20 204.67 L425.20 204.88 L426.20 205.10 L427.20 205.32 L428.20 205.55 L429.20 205.78 L430.20 206.03 L431.20 206.29 L432.20 206.57 L433.20 206.85 L434.20 207.14 L435.20 207.44 L436.20 207.74 L437.20 208.06 L438.20 208.40 L439.20 208.76 L440.20 209.14 L441.20 209.55 L442.20 209.96 L443.20 210.39 L444.20 210.83 L445.20 211.30 L446.20 211.80 L447.20 212.34 L448.20 212.90 L449.20 213.50 L450.20 214.11 L451.20 214.74 L452.20 215.39 L453.20 216.06 L454.20 216.75 L455.20 217.46 L456.20 218.18 L457.20 218.90 L458.20 219.64 L459.20 220.39 L460.20 221.15 L461.20 221.91 L462.20 222.68 L463.20 223.44 L464.20 224.20 L465.20 224.95 L466.20 225.70 L467.20 226.44 L468.20 227.18 L469.20 227.91 L470.20 228.65 L471.20 229.39 L472.20 230.13 L473.20 230.86 L474.20 231.59 L475.20 232.32 L476.20 233.03 L477.20 233.72 L478.20 234.41 L479.20 235.10 L480.20 235.79 L481.20 236.49 L482.20 237.20 L483.20 237.91 L484.20 238.64 L485.20 239.37 L486.20 240.11 L487.20 240.87 L488.20 241.64 L489.20 242.43 L490.20 243.24 L491.20 244.06 L492.20 244.90 L493.20 245.74 L494.20 246.58 L495.20 247.40 L496.20 248.21 L497.20 249.01 L498.20 249.82 L499.20 250.64 L500.20 251.47 L501.20 252.32 L502.20 253.17 L503.20 254.01 L504.20 254.84 L505.20 255.65 L506.20 256.46 L507.20 257.27 L508.20 258.08 L509.20 258.90 L510.20 259.74 L511.20 260.59 L512.20 261.45 L513.20 262.31 L514.20 263.18 L515.20 264.04 L516.20 264.90 L517.20 265.76 L518.20 266.61 L519.20 267.43 L520.20 268.24 L521.20 269.02 L522.20 269.80 L523.20 270.56 L524.20 271.32 L525.20 272.08 L526.20 272.83 L527.20 273.58 L528.20 274.32 L529.20 275.06 L530.20 275.79 L531.20 276.52 L532.20 277.24 L533.20 277.94 L534.20 278.62 L535.20 279.30 L536.20 279.96 L537.20 280.60 L538.20 281.22 L539.20 281.82 L540.20 282.39 L541.20 282.94 L542.20 283.47 L543.20 283.98 L544.20 284.50 L545.20 285.02 L546.20 285.55 L547.20 286.09 L548.20 286.63 L549.20 287.17 L550.20 287.72 L551.20 288.27 L552.20 288.83 L553.20 289.38 L554.20 289.94 L555.20 290.48 L556.20 291.03 L557.20 291.56 L558.20 292.10 L559.20 292.62 L560.20 293.15 L561.20 293.67 L562.20 294.18 L563.20 294.69 L564.20 295.20 L565.20 295.70 L566.20 296.20 L567.20 296.69 L568.20 297.18 L569.20 297.67 L570.20 298.15 L571.20 298.62 L572.20 299.09 L573.20 299.56 L574.20 300.02 L575.20 300.46 L576.20 300.90 L577.20 301.33 L578.20 301.76 L579.20 302.18 L580.20 302.59 L581.20 303.00 L582.20 303.40 L583.20 303.80 L584.20 304.19 L585.20 304.58 L586.20 304.97 L587.20 305.35 L588.20 305.73 L589.20 306.11 L590.20 306.49 L591.20 306.87 L592.20 307.26 L593.20 307.64 L594.20 308.03 L595.20 308.41 L596.20 308.78 L597.20 309.13 L598.20 309.46 L599.20 309.78 L600.20 310.09 L601.20 310.39 L602.20 310.69 L603.20 310.99 L604.20 311.28 L605.20 311.58 L606.20 311.87 L607.20 312.16 L608.20 312.44 L609.20 312.70 L610.20 312.94 L611.20 313.16 L612.20 313.37 L613.20 313.58 L614.20 313.78 L615.20 313.98 L616.20 314.18 L617.20 314.38 L618.20 314.58 L619.20 314.78 L620.20 314.98 L621.20 315.18 L621.70 315.28" fill="none" stroke="#b94d9d" stroke-width="1.70" stroke-linejoin="round" stroke-linecap="round"/>
<path d="M361.10 290.80 L362.10 289.53 L363.10 288.26 L364.10 287.00 L365.10 285.73 L366.10 284.46 L367.10 283.19 L368.10 281.92 L369.10 280.65 L370.10 279.37 L371.10 278.08 L372.10 276.79 L373.10 275.49 L374.10 274.19 L375.10 272.89 L376.10 271.59 L377.10 270.28 L378.10 268.98 L379.10 267.67 L380.10 266.36 L381.10 265.03 L382.10 263.68 L383.10 262.29 L384.10 260.84 L385.10 259.33 L386.10 257.79 L387.10 256.21 L388.10 254.64 L389.10 253.07 L390.10 251.54 L391.10 250.05 L392.10 248.61 L393.10 247.21 L394.10 245.84 L395.10 244.48 L396.10 243.14 L397.10 241.80 L398.10 240.47 L399.10 239.16 L400.10 237.85 L401.10 236.55 L402.10 235.26 L403.10 233.99 L404.10 232.73 L405.10 231.49 L406.10 230.27 L407.10 229.06 L408.10 227.88 L409.10 226.72 L410.10 225.59 L411.10 224.50 L412.10 223.44 L413.10 222.42 L414.10 221.42 L415.10 220.44 L416.10 219.49 L417.10 218.57 L418.10 217.68 L419.10 216.83 L420.10 216.00 L421.10 215.20 L422.10 214.43 L423.10 213.69 L424.10 212.98 L425.10 212.31 L426.10 211.68 L427.10 211.09 L428.10 210.54 L429.10 210.01 L430.10 209.52 L431.10 209.05 L432.10 208.62 L433.10 208.21 L434.10 207.80 L435.10 207.41 L436.10 207.02 L437.10 206.64 L438.10 206.28 L439.10 205.93 L440.10 205.60 L441.10 205.29 L442.10 204.99 L443.10 204.70 L444.10 204.42 L445.10 204.17 L446.10 203.94 L447.10 203.76 L448.10 203.60 L449.10 203.48 L450.10 203.37 L451.10 203.29 L452.10 203.25 L453.10 203.24 L454.10 203.26 L455.10 203.32 L456.10 203.39 L457.10 203.50 L458.10 203.64 L459.10 203.82 L460.10 204.04 L461.10 204.28 L462.10 204.54 L463.10 204.81 L464.10 205.09 L465.10 205.39 L466.10 205.70 L467.10 206.03 L468.10 206.36 L469.10 206.72 L470.10 207.09 L471.10 207.49 L472.10 207.91 L473.10 208.36 L474.10 208.82 L475.10 209.30 L476.10 209.80 L477.10 210.34 L478.10 210.90 L479.10 211.49 L480.10 212.10 L481.10 212.73 L482.10 213.38 L483.10 214.04 L484.10 214.72 L485.10 215.40 L486.10 216.09 L487.10 216.78 L488.10 217.48 L489.10 218.18 L490.10 218.88 L491.10 219.59 L492.10 220.31 L493.10 221.02 L494.10 221.74 L495.10 222.45 L496.10 223.17 L497.10 223.90 L498.10 224.64 L499.10 225.40 L500.10 226.18 L501.10 226.99 L502.10 227.83 L503.10 228.67 L504.10 229.52 L505.10 230.37 L506.10 231.22 L507.10 232.07 L508.10 232.92 L509.10 233.78 L510.10 234.64 L511.10 235.50 L512.10 236.36 L513.10 237.23 L514.10 238.09 L515.10 238.95 L516.10 239.81 L517.10 240.67 L518.10 241.52 L519.10 242.36 L520.10 243.20 L521.10 244.04 L522.10 244.87 L523.10 245.70 L524.10 246.53 L525.10 247.36 L526.10 248.19 L527.10 249.01 L528.10 249.83 L529.10 250.65 L530.10 251.46 L531.10 252.28 L532.10 253.09 L533.10 253.90 L534.10 254.71 L535.10 255.52 L536.10 256.33 L537.10 257.14 L538.10 257.94 L539.10 258.72 L540.10 259.48 L541.10 260.22 L542.10 260.93 L543.10 261.64 L544.10 262.33 L545.10 263.03 L546.10 263.72 L547.10 264.42 L548.10 265.12 L549.10 265.81 L550.10 266.51 L551.10 267.22 L552.10 267.91 L553.10 268.61 L554.10 269.31 L555.10 270.00 L556.10 270.70 L557.10 271.39 L558.10 272.08 L559.10 272.78 L560.10 273.48 L561.10 274.18 L562.10 274.89 L563.10 275.61 L564.10 276.33 L565.10 277.05 L566.10 277.78 L567.10 278.51 L568.10 279.26 L569.10 280.01 L570.10 280.77 L571.10 281.53 L572.10 282.27 L573.10 283.00 L574.10 283.71 L575.10 284.40 L576.10 285.06 L577.10 285.71 L578.10 286.36 L579.10 287.00 L580.10 287.65 L581.10 288.29 L582.10 288.94 L583.10 289.58 L584.10 290.22 L585.10 290.86 L586.10 291.49 L587.10 292.10 L588.10 292.69 L589.10 293.26 L590.10 293.82 L591.10 294.37 L592.10 294.91 L593.10 295.46 L594.10 296.00 L595.10 296.54 L596.10 297.09 L597.10 297.63 L598.10 298.19 L599.10 298.76 L600.10 299.34 L601.10 299.92 L602.10 300.50 L603.10 301.04 L604.10 301.54 L605.10 302.00 L606.10 302.42 L607.10 302.82 L608.10 303.19 L609.10 303.55 L610.10 303.89 L611.10 304.21 L612.10 304.52 L613.10 304.81 L614.10 305.10 L615.10 305.37 L616.10 305.63 L617.10 305.89 L618.10 306.13 L619.10 306.37 L620.10 306.60 L621.10 306.84 L621.60 306.95" fill="none" stroke="#62c6d2" stroke-width="1.70" stroke-linejoin="round" stroke-linecap="round"/>
<path d="M547.20 205.70h15.5" stroke="#a2a2a2" stroke-width="1.50"/>
<text x="568.70" y="207.70" font-size="9" style="fill:#2e2e2e;stroke:#2e2e2e;stroke-width:0.15px">WT</text>
<path d="M547.20 218.00h15.5" stroke="#111111" stroke-width="2.00"/>
<text x="568.70" y="220.00" font-size="9" style="fill:#2e2e2e;stroke:#2e2e2e;stroke-width:0.15px">W41Y</text>
<path d="M547.20 230.80h15.5" stroke="#b94d9d" stroke-width="1.70"/>
<text x="568.70" y="232.80" font-size="9" style="fill:#2e2e2e;stroke:#2e2e2e;stroke-width:0.15px">W41Y-6FW</text>
<path d="M547.20 243.10h15.5" stroke="#62c6d2" stroke-width="1.70"/>
<text x="568.70" y="245.10" font-size="9" style="fill:#2e2e2e;stroke:#2e2e2e;stroke-width:0.15px">WT-6FW</text>
<path d="M422.30 197.00H443.30" stroke="#1e1e1e" stroke-width="1.6"/>
<path d="M440.00 194.20L444.80 197.00L440.00 199.80L441.60 197.00Z" fill="#222"/>
<g stroke="#262626" stroke-width="1.1" fill="none" stroke-linecap="round">
<path d="M428.40 86.00L407.40 97.20M407.40 97.20L407.40 119.60M407.40 119.60L427.00 130.80M427.00 130.80L446.80 120.00M446.80 120.00L446.80 97.20M446.80 97.20L428.40 86.00M410.60 99.40L427.60 89.50M410.40 117.90L426.60 127.20M443.90 100.00L443.90 117.50M446.80 97.20L467.70 90.80M467.70 90.80L481.20 108.50M481.20 108.50L474.20 120.20M446.80 120.00L463.60 124.30M467.20 95.30L478.00 109.60M418.00 71.90L463.80 128.20M473.60 81.40L417.80 139.20"/>
</g>
<g fill="#444" stroke="none">
<circle cx="418.0" cy="71.9" r="1.1"/><circle cx="473.6" cy="81.4" r="1.1"/><circle cx="417.8" cy="139.2" r="1.1"/>
</g>
<g style="fill:#3a3a3a"><text x="399.8" y="72.8" font-size="7" style="fill:#3a3a3a">1</text><text x="403.2" y="76.6" font-size="11.4" style="fill:#3a3a3a">L</text><text x="409.4" y="79.8" font-size="7" style="fill:#3a3a3a">a</text>
<text x="472.2" y="72.8" font-size="7" style="fill:#3a3a3a">1</text><text x="475.5" y="77.2" font-size="11.4" style="fill:#3a3a3a">L</text><text x="481.6" y="80.2" font-size="7" style="fill:#3a3a3a">b</text></g>
<text x="464.4" y="131.6" font-size="12.8" style="fill:#222">N</text><text x="465.4" y="142.6" font-size="12.8" style="fill:#222">H</text>
</svg>
</body></html>
